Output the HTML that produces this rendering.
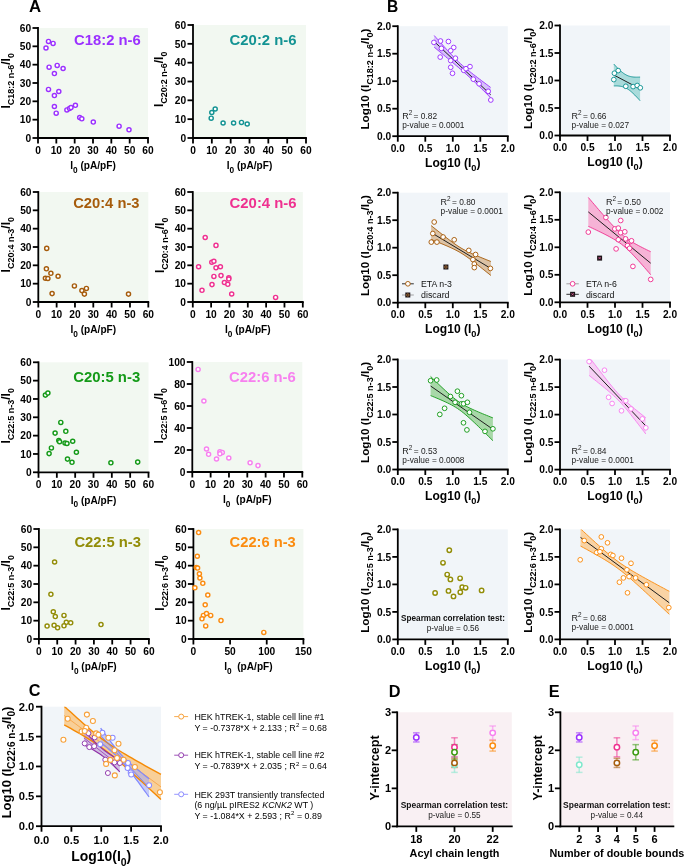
<!DOCTYPE html>
<html><head><meta charset="utf-8"><style>
html,body{margin:0;padding:0;background:#fff;}
svg{display:block;font-family:"Liberation Sans",sans-serif;} text{white-space:pre;} svg{will-change:transform;}
</style></head><body>
<svg width="685" height="867" viewBox="0 0 685 867" font-family="Liberation Sans, sans-serif">
<rect width="685" height="867" fill="#fff"/>
<text x="28.9" y="11.7" font-size="16.8" font-weight="bold" fill="#000">A</text>
<text x="387" y="12.4" font-size="15.6" font-weight="bold" fill="#000">B</text>
<text x="28.8" y="696.4" font-size="16.2" font-weight="bold" fill="#000">C</text>
<text x="388.8" y="696.8" font-size="16.3" font-weight="bold" fill="#000">D</text>
<text x="548.8" y="696.8" font-size="16.3" font-weight="bold" fill="#000">E</text>
<rect x="38.9" y="28" width="109.1" height="109.1" fill="#f2f8f1"/>
<line x1="38" y1="27.1" x2="38" y2="138.9" stroke="#000" stroke-width="1.8"/>
<line x1="37.1" y1="138" x2="148.9" y2="138" stroke="#000" stroke-width="1.8"/>
<line x1="32.5" y1="138" x2="38" y2="138" stroke="#000" stroke-width="1.8"/>
<text x="31.2" y="141.67" font-size="10.2" font-weight="bold" text-anchor="end" fill="#000">0</text>
<line x1="32.5" y1="119.67" x2="38" y2="119.67" stroke="#000" stroke-width="1.8"/>
<text x="31.2" y="123.34" font-size="10.2" font-weight="bold" text-anchor="end" fill="#000">10</text>
<line x1="32.5" y1="101.33" x2="38" y2="101.33" stroke="#000" stroke-width="1.8"/>
<text x="31.2" y="105.01" font-size="10.2" font-weight="bold" text-anchor="end" fill="#000">20</text>
<line x1="32.5" y1="83" x2="38" y2="83" stroke="#000" stroke-width="1.8"/>
<text x="31.2" y="86.67" font-size="10.2" font-weight="bold" text-anchor="end" fill="#000">30</text>
<line x1="32.5" y1="64.67" x2="38" y2="64.67" stroke="#000" stroke-width="1.8"/>
<text x="31.2" y="68.34" font-size="10.2" font-weight="bold" text-anchor="end" fill="#000">40</text>
<line x1="32.5" y1="46.33" x2="38" y2="46.33" stroke="#000" stroke-width="1.8"/>
<text x="31.2" y="50.01" font-size="10.2" font-weight="bold" text-anchor="end" fill="#000">50</text>
<line x1="32.5" y1="28" x2="38" y2="28" stroke="#000" stroke-width="1.8"/>
<text x="31.2" y="31.67" font-size="10.2" font-weight="bold" text-anchor="end" fill="#000">60</text>
<line x1="38" y1="138" x2="38" y2="143.5" stroke="#000" stroke-width="1.8"/>
<text x="38" y="153.6" font-size="10.2" font-weight="bold" text-anchor="middle" fill="#000">0</text>
<line x1="56.33" y1="138" x2="56.33" y2="143.5" stroke="#000" stroke-width="1.8"/>
<text x="56.33" y="153.6" font-size="10.2" font-weight="bold" text-anchor="middle" fill="#000">10</text>
<line x1="74.67" y1="138" x2="74.67" y2="143.5" stroke="#000" stroke-width="1.8"/>
<text x="74.67" y="153.6" font-size="10.2" font-weight="bold" text-anchor="middle" fill="#000">20</text>
<line x1="93" y1="138" x2="93" y2="143.5" stroke="#000" stroke-width="1.8"/>
<text x="93" y="153.6" font-size="10.2" font-weight="bold" text-anchor="middle" fill="#000">30</text>
<line x1="111.33" y1="138" x2="111.33" y2="143.5" stroke="#000" stroke-width="1.8"/>
<text x="111.33" y="153.6" font-size="10.2" font-weight="bold" text-anchor="middle" fill="#000">40</text>
<line x1="129.67" y1="138" x2="129.67" y2="143.5" stroke="#000" stroke-width="1.8"/>
<text x="129.67" y="153.6" font-size="10.2" font-weight="bold" text-anchor="middle" fill="#000">50</text>
<line x1="148" y1="138" x2="148" y2="143.5" stroke="#000" stroke-width="1.8"/>
<text x="148" y="153.6" font-size="10.2" font-weight="bold" text-anchor="middle" fill="#000">60</text>
<text x="74.1" y="45.3" font-size="15" font-weight="bold" fill="#9b30ff" textLength="66.6" lengthAdjust="spacingAndGlyphs">C18:2 n-6</text>
<circle cx="48.5" cy="41.4" r="2.05" fill="#fff" stroke="#9b30ff" stroke-width="1.45"/>
<circle cx="53.1" cy="43.4" r="2.05" fill="#fff" stroke="#9b30ff" stroke-width="1.45"/>
<circle cx="46" cy="48" r="2.05" fill="#fff" stroke="#9b30ff" stroke-width="1.45"/>
<circle cx="49.1" cy="67.2" r="2.05" fill="#fff" stroke="#9b30ff" stroke-width="1.45"/>
<circle cx="57.2" cy="65.4" r="2.05" fill="#fff" stroke="#9b30ff" stroke-width="1.45"/>
<circle cx="63.1" cy="68.5" r="2.05" fill="#fff" stroke="#9b30ff" stroke-width="1.45"/>
<circle cx="54.4" cy="73.6" r="2.05" fill="#fff" stroke="#9b30ff" stroke-width="1.45"/>
<circle cx="48.5" cy="89.4" r="2.05" fill="#fff" stroke="#9b30ff" stroke-width="1.45"/>
<circle cx="58.8" cy="91.5" r="2.05" fill="#fff" stroke="#9b30ff" stroke-width="1.45"/>
<circle cx="54.4" cy="95.6" r="2.05" fill="#fff" stroke="#9b30ff" stroke-width="1.45"/>
<circle cx="54.4" cy="106.5" r="2.05" fill="#fff" stroke="#9b30ff" stroke-width="1.45"/>
<circle cx="56.2" cy="113.2" r="2.05" fill="#fff" stroke="#9b30ff" stroke-width="1.45"/>
<circle cx="66.9" cy="109.9" r="2.05" fill="#fff" stroke="#9b30ff" stroke-width="1.45"/>
<circle cx="69.5" cy="108.6" r="2.05" fill="#fff" stroke="#9b30ff" stroke-width="1.45"/>
<circle cx="71" cy="107.6" r="2.05" fill="#fff" stroke="#9b30ff" stroke-width="1.45"/>
<circle cx="75.4" cy="105.3" r="2.05" fill="#fff" stroke="#9b30ff" stroke-width="1.45"/>
<circle cx="79.7" cy="117.5" r="2.05" fill="#fff" stroke="#9b30ff" stroke-width="1.45"/>
<circle cx="81.8" cy="118.8" r="2.05" fill="#fff" stroke="#9b30ff" stroke-width="1.45"/>
<circle cx="93.3" cy="122.1" r="2.05" fill="#fff" stroke="#9b30ff" stroke-width="1.45"/>
<circle cx="119.1" cy="126.2" r="2.05" fill="#fff" stroke="#9b30ff" stroke-width="1.45"/>
<circle cx="129" cy="129.8" r="2.05" fill="#fff" stroke="#9b30ff" stroke-width="1.45"/>
<text x="70.2" y="169.4" font-size="10.2" font-weight="bold" fill="#000" textLength="2.81" lengthAdjust="spacingAndGlyphs">I</text>
<text x="73.01" y="172.5" font-size="8.4" font-weight="bold" fill="#000" textLength="4.63" lengthAdjust="spacingAndGlyphs">0</text>
<text x="77.64" y="169.4" font-size="10.2" font-weight="bold" fill="#000" textLength="38.16" lengthAdjust="spacingAndGlyphs"> (pA/pF)</text>
<g transform="translate(9.7,80.8) rotate(-90)">
<text x="-27.7" y="0" font-size="12" font-weight="bold" fill="#000" textLength="3.33" lengthAdjust="spacingAndGlyphs">I</text>
<text x="-24.37" y="4" font-size="9" font-weight="bold" fill="#000" textLength="40.43" lengthAdjust="spacingAndGlyphs">C18:2 n-6</text>
<text x="16.05" y="0" font-size="12" font-weight="bold" fill="#000" textLength="6.65" lengthAdjust="spacingAndGlyphs">/I</text>
<text x="22.71" y="4" font-size="9" font-weight="bold" fill="#000" textLength="4.99" lengthAdjust="spacingAndGlyphs">0</text>
</g>
<rect x="193.9" y="25" width="112.1" height="112.1" fill="#f2f8f1"/>
<line x1="193" y1="24.1" x2="193" y2="138.9" stroke="#000" stroke-width="1.8"/>
<line x1="192.1" y1="138" x2="306.9" y2="138" stroke="#000" stroke-width="1.8"/>
<line x1="187.5" y1="138" x2="193" y2="138" stroke="#000" stroke-width="1.8"/>
<text x="186.2" y="141.67" font-size="10.2" font-weight="bold" text-anchor="end" fill="#000">0</text>
<line x1="187.5" y1="119.17" x2="193" y2="119.17" stroke="#000" stroke-width="1.8"/>
<text x="186.2" y="122.84" font-size="10.2" font-weight="bold" text-anchor="end" fill="#000">10</text>
<line x1="187.5" y1="100.33" x2="193" y2="100.33" stroke="#000" stroke-width="1.8"/>
<text x="186.2" y="104.01" font-size="10.2" font-weight="bold" text-anchor="end" fill="#000">20</text>
<line x1="187.5" y1="81.5" x2="193" y2="81.5" stroke="#000" stroke-width="1.8"/>
<text x="186.2" y="85.17" font-size="10.2" font-weight="bold" text-anchor="end" fill="#000">30</text>
<line x1="187.5" y1="62.67" x2="193" y2="62.67" stroke="#000" stroke-width="1.8"/>
<text x="186.2" y="66.34" font-size="10.2" font-weight="bold" text-anchor="end" fill="#000">40</text>
<line x1="187.5" y1="43.83" x2="193" y2="43.83" stroke="#000" stroke-width="1.8"/>
<text x="186.2" y="47.51" font-size="10.2" font-weight="bold" text-anchor="end" fill="#000">50</text>
<line x1="187.5" y1="25" x2="193" y2="25" stroke="#000" stroke-width="1.8"/>
<text x="186.2" y="28.67" font-size="10.2" font-weight="bold" text-anchor="end" fill="#000">60</text>
<line x1="193" y1="138" x2="193" y2="143.5" stroke="#000" stroke-width="1.8"/>
<text x="193" y="153.6" font-size="10.2" font-weight="bold" text-anchor="middle" fill="#000">0</text>
<line x1="211.83" y1="138" x2="211.83" y2="143.5" stroke="#000" stroke-width="1.8"/>
<text x="211.83" y="153.6" font-size="10.2" font-weight="bold" text-anchor="middle" fill="#000">10</text>
<line x1="230.67" y1="138" x2="230.67" y2="143.5" stroke="#000" stroke-width="1.8"/>
<text x="230.67" y="153.6" font-size="10.2" font-weight="bold" text-anchor="middle" fill="#000">20</text>
<line x1="249.5" y1="138" x2="249.5" y2="143.5" stroke="#000" stroke-width="1.8"/>
<text x="249.5" y="153.6" font-size="10.2" font-weight="bold" text-anchor="middle" fill="#000">30</text>
<line x1="268.33" y1="138" x2="268.33" y2="143.5" stroke="#000" stroke-width="1.8"/>
<text x="268.33" y="153.6" font-size="10.2" font-weight="bold" text-anchor="middle" fill="#000">40</text>
<line x1="287.17" y1="138" x2="287.17" y2="143.5" stroke="#000" stroke-width="1.8"/>
<text x="287.17" y="153.6" font-size="10.2" font-weight="bold" text-anchor="middle" fill="#000">50</text>
<line x1="306" y1="138" x2="306" y2="143.5" stroke="#000" stroke-width="1.8"/>
<text x="306" y="153.6" font-size="10.2" font-weight="bold" text-anchor="middle" fill="#000">60</text>
<text x="229.6" y="45.4" font-size="15" font-weight="bold" fill="#139393" textLength="67" lengthAdjust="spacingAndGlyphs">C20:2 n-6</text>
<circle cx="211.2" cy="118.2" r="2.05" fill="#fff" stroke="#139393" stroke-width="1.45"/>
<circle cx="211.8" cy="112.5" r="2.05" fill="#fff" stroke="#139393" stroke-width="1.45"/>
<circle cx="215.2" cy="109" r="2.05" fill="#fff" stroke="#139393" stroke-width="1.45"/>
<circle cx="223.1" cy="123" r="2.05" fill="#fff" stroke="#139393" stroke-width="1.45"/>
<circle cx="233.6" cy="123" r="2.05" fill="#fff" stroke="#139393" stroke-width="1.45"/>
<circle cx="241.5" cy="122.4" r="2.05" fill="#fff" stroke="#139393" stroke-width="1.45"/>
<circle cx="247.2" cy="124" r="2.05" fill="#fff" stroke="#139393" stroke-width="1.45"/>
<text x="226.7" y="169.4" font-size="10.2" font-weight="bold" fill="#000" textLength="2.81" lengthAdjust="spacingAndGlyphs">I</text>
<text x="229.51" y="172.5" font-size="8.4" font-weight="bold" fill="#000" textLength="4.63" lengthAdjust="spacingAndGlyphs">0</text>
<text x="234.14" y="169.4" font-size="10.2" font-weight="bold" fill="#000" textLength="38.16" lengthAdjust="spacingAndGlyphs"> (pA/pF)</text>
<g transform="translate(163.4,79.3) rotate(-90)">
<text x="-27.7" y="0" font-size="12" font-weight="bold" fill="#000" textLength="3.33" lengthAdjust="spacingAndGlyphs">I</text>
<text x="-24.37" y="4" font-size="9" font-weight="bold" fill="#000" textLength="40.43" lengthAdjust="spacingAndGlyphs">C20:2 n-6</text>
<text x="16.05" y="0" font-size="12" font-weight="bold" fill="#000" textLength="6.65" lengthAdjust="spacingAndGlyphs">/I</text>
<text x="22.71" y="4" font-size="9" font-weight="bold" fill="#000" textLength="4.99" lengthAdjust="spacingAndGlyphs">0</text>
</g>
<rect x="39.2" y="192" width="109.1" height="109.1" fill="#f2f8f1"/>
<line x1="38.3" y1="191.1" x2="38.3" y2="302.9" stroke="#000" stroke-width="1.8"/>
<line x1="37.4" y1="302" x2="149.2" y2="302" stroke="#000" stroke-width="1.8"/>
<line x1="32.8" y1="302" x2="38.3" y2="302" stroke="#000" stroke-width="1.8"/>
<text x="31.5" y="305.67" font-size="10.2" font-weight="bold" text-anchor="end" fill="#000">0</text>
<line x1="32.8" y1="283.67" x2="38.3" y2="283.67" stroke="#000" stroke-width="1.8"/>
<text x="31.5" y="287.34" font-size="10.2" font-weight="bold" text-anchor="end" fill="#000">10</text>
<line x1="32.8" y1="265.33" x2="38.3" y2="265.33" stroke="#000" stroke-width="1.8"/>
<text x="31.5" y="269.01" font-size="10.2" font-weight="bold" text-anchor="end" fill="#000">20</text>
<line x1="32.8" y1="247" x2="38.3" y2="247" stroke="#000" stroke-width="1.8"/>
<text x="31.5" y="250.67" font-size="10.2" font-weight="bold" text-anchor="end" fill="#000">30</text>
<line x1="32.8" y1="228.67" x2="38.3" y2="228.67" stroke="#000" stroke-width="1.8"/>
<text x="31.5" y="232.34" font-size="10.2" font-weight="bold" text-anchor="end" fill="#000">40</text>
<line x1="32.8" y1="210.33" x2="38.3" y2="210.33" stroke="#000" stroke-width="1.8"/>
<text x="31.5" y="214.01" font-size="10.2" font-weight="bold" text-anchor="end" fill="#000">50</text>
<line x1="32.8" y1="192" x2="38.3" y2="192" stroke="#000" stroke-width="1.8"/>
<text x="31.5" y="195.67" font-size="10.2" font-weight="bold" text-anchor="end" fill="#000">60</text>
<line x1="38.3" y1="302" x2="38.3" y2="307.5" stroke="#000" stroke-width="1.8"/>
<text x="38.3" y="317.6" font-size="10.2" font-weight="bold" text-anchor="middle" fill="#000">0</text>
<line x1="56.63" y1="302" x2="56.63" y2="307.5" stroke="#000" stroke-width="1.8"/>
<text x="56.63" y="317.6" font-size="10.2" font-weight="bold" text-anchor="middle" fill="#000">10</text>
<line x1="74.97" y1="302" x2="74.97" y2="307.5" stroke="#000" stroke-width="1.8"/>
<text x="74.97" y="317.6" font-size="10.2" font-weight="bold" text-anchor="middle" fill="#000">20</text>
<line x1="93.3" y1="302" x2="93.3" y2="307.5" stroke="#000" stroke-width="1.8"/>
<text x="93.3" y="317.6" font-size="10.2" font-weight="bold" text-anchor="middle" fill="#000">30</text>
<line x1="111.63" y1="302" x2="111.63" y2="307.5" stroke="#000" stroke-width="1.8"/>
<text x="111.63" y="317.6" font-size="10.2" font-weight="bold" text-anchor="middle" fill="#000">40</text>
<line x1="129.97" y1="302" x2="129.97" y2="307.5" stroke="#000" stroke-width="1.8"/>
<text x="129.97" y="317.6" font-size="10.2" font-weight="bold" text-anchor="middle" fill="#000">50</text>
<line x1="148.3" y1="302" x2="148.3" y2="307.5" stroke="#000" stroke-width="1.8"/>
<text x="148.3" y="317.6" font-size="10.2" font-weight="bold" text-anchor="middle" fill="#000">60</text>
<text x="73.2" y="208.3" font-size="15" font-weight="bold" fill="#a65c0c" textLength="66.3" lengthAdjust="spacingAndGlyphs">C20:4 n-3</text>
<circle cx="46.7" cy="248.4" r="2.05" fill="#fff" stroke="#a65c0c" stroke-width="1.45"/>
<circle cx="46.4" cy="268.8" r="2.05" fill="#fff" stroke="#a65c0c" stroke-width="1.45"/>
<circle cx="50.9" cy="273.3" r="2.05" fill="#fff" stroke="#a65c0c" stroke-width="1.45"/>
<circle cx="58.1" cy="276.2" r="2.05" fill="#fff" stroke="#a65c0c" stroke-width="1.45"/>
<circle cx="45.4" cy="278.2" r="2.05" fill="#fff" stroke="#a65c0c" stroke-width="1.45"/>
<circle cx="47.9" cy="278.5" r="2.05" fill="#fff" stroke="#a65c0c" stroke-width="1.45"/>
<circle cx="52.1" cy="293.6" r="2.05" fill="#fff" stroke="#a65c0c" stroke-width="1.45"/>
<circle cx="74.4" cy="285.9" r="2.05" fill="#fff" stroke="#a65c0c" stroke-width="1.45"/>
<circle cx="81.9" cy="290.6" r="2.05" fill="#fff" stroke="#a65c0c" stroke-width="1.45"/>
<circle cx="86.4" cy="288.4" r="2.05" fill="#fff" stroke="#a65c0c" stroke-width="1.45"/>
<circle cx="84.4" cy="294.1" r="2.05" fill="#fff" stroke="#a65c0c" stroke-width="1.45"/>
<circle cx="128.5" cy="294.1" r="2.05" fill="#fff" stroke="#a65c0c" stroke-width="1.45"/>
<text x="70.5" y="333.4" font-size="10.2" font-weight="bold" fill="#000" textLength="2.81" lengthAdjust="spacingAndGlyphs">I</text>
<text x="73.31" y="336.5" font-size="8.4" font-weight="bold" fill="#000" textLength="4.63" lengthAdjust="spacingAndGlyphs">0</text>
<text x="77.94" y="333.4" font-size="10.2" font-weight="bold" fill="#000" textLength="38.16" lengthAdjust="spacingAndGlyphs"> (pA/pF)</text>
<g transform="translate(9.9,244.7) rotate(-90)">
<text x="-27.7" y="0" font-size="12" font-weight="bold" fill="#000" textLength="3.33" lengthAdjust="spacingAndGlyphs">I</text>
<text x="-24.37" y="4" font-size="9" font-weight="bold" fill="#000" textLength="40.43" lengthAdjust="spacingAndGlyphs">C20:4 n-3</text>
<text x="16.05" y="0" font-size="12" font-weight="bold" fill="#000" textLength="6.65" lengthAdjust="spacingAndGlyphs">/I</text>
<text x="22.71" y="4" font-size="9" font-weight="bold" fill="#000" textLength="4.99" lengthAdjust="spacingAndGlyphs">0</text>
</g>
<rect x="193.7" y="192" width="109.1" height="109.1" fill="#f2f8f1"/>
<line x1="192.8" y1="191.1" x2="192.8" y2="302.9" stroke="#000" stroke-width="1.8"/>
<line x1="191.9" y1="302" x2="303.7" y2="302" stroke="#000" stroke-width="1.8"/>
<line x1="187.3" y1="302" x2="192.8" y2="302" stroke="#000" stroke-width="1.8"/>
<text x="186" y="305.67" font-size="10.2" font-weight="bold" text-anchor="end" fill="#000">0</text>
<line x1="187.3" y1="283.67" x2="192.8" y2="283.67" stroke="#000" stroke-width="1.8"/>
<text x="186" y="287.34" font-size="10.2" font-weight="bold" text-anchor="end" fill="#000">10</text>
<line x1="187.3" y1="265.33" x2="192.8" y2="265.33" stroke="#000" stroke-width="1.8"/>
<text x="186" y="269.01" font-size="10.2" font-weight="bold" text-anchor="end" fill="#000">20</text>
<line x1="187.3" y1="247" x2="192.8" y2="247" stroke="#000" stroke-width="1.8"/>
<text x="186" y="250.67" font-size="10.2" font-weight="bold" text-anchor="end" fill="#000">30</text>
<line x1="187.3" y1="228.67" x2="192.8" y2="228.67" stroke="#000" stroke-width="1.8"/>
<text x="186" y="232.34" font-size="10.2" font-weight="bold" text-anchor="end" fill="#000">40</text>
<line x1="187.3" y1="210.33" x2="192.8" y2="210.33" stroke="#000" stroke-width="1.8"/>
<text x="186" y="214.01" font-size="10.2" font-weight="bold" text-anchor="end" fill="#000">50</text>
<line x1="187.3" y1="192" x2="192.8" y2="192" stroke="#000" stroke-width="1.8"/>
<text x="186" y="195.67" font-size="10.2" font-weight="bold" text-anchor="end" fill="#000">60</text>
<line x1="192.8" y1="302" x2="192.8" y2="307.5" stroke="#000" stroke-width="1.8"/>
<text x="192.8" y="317.6" font-size="10.2" font-weight="bold" text-anchor="middle" fill="#000">0</text>
<line x1="211.13" y1="302" x2="211.13" y2="307.5" stroke="#000" stroke-width="1.8"/>
<text x="211.13" y="317.6" font-size="10.2" font-weight="bold" text-anchor="middle" fill="#000">10</text>
<line x1="229.47" y1="302" x2="229.47" y2="307.5" stroke="#000" stroke-width="1.8"/>
<text x="229.47" y="317.6" font-size="10.2" font-weight="bold" text-anchor="middle" fill="#000">20</text>
<line x1="247.8" y1="302" x2="247.8" y2="307.5" stroke="#000" stroke-width="1.8"/>
<text x="247.8" y="317.6" font-size="10.2" font-weight="bold" text-anchor="middle" fill="#000">30</text>
<line x1="266.13" y1="302" x2="266.13" y2="307.5" stroke="#000" stroke-width="1.8"/>
<text x="266.13" y="317.6" font-size="10.2" font-weight="bold" text-anchor="middle" fill="#000">40</text>
<line x1="284.47" y1="302" x2="284.47" y2="307.5" stroke="#000" stroke-width="1.8"/>
<text x="284.47" y="317.6" font-size="10.2" font-weight="bold" text-anchor="middle" fill="#000">50</text>
<line x1="302.8" y1="302" x2="302.8" y2="307.5" stroke="#000" stroke-width="1.8"/>
<text x="302.8" y="317.6" font-size="10.2" font-weight="bold" text-anchor="middle" fill="#000">60</text>
<text x="229.6" y="208.3" font-size="15" font-weight="bold" fill="#ef3190" textLength="67" lengthAdjust="spacingAndGlyphs">C20:4 n-6</text>
<circle cx="205.2" cy="237.5" r="2.05" fill="#fff" stroke="#ef3190" stroke-width="1.45"/>
<circle cx="216" cy="245.4" r="2.05" fill="#fff" stroke="#ef3190" stroke-width="1.45"/>
<circle cx="211.8" cy="262.2" r="2.05" fill="#fff" stroke="#ef3190" stroke-width="1.45"/>
<circle cx="213.9" cy="261.2" r="2.05" fill="#fff" stroke="#ef3190" stroke-width="1.45"/>
<circle cx="198.6" cy="266.7" r="2.05" fill="#fff" stroke="#ef3190" stroke-width="1.45"/>
<circle cx="216" cy="267.7" r="2.05" fill="#fff" stroke="#ef3190" stroke-width="1.45"/>
<circle cx="220.4" cy="266.7" r="2.05" fill="#fff" stroke="#ef3190" stroke-width="1.45"/>
<circle cx="213.9" cy="276.4" r="2.05" fill="#fff" stroke="#ef3190" stroke-width="1.45"/>
<circle cx="221" cy="275.6" r="2.05" fill="#fff" stroke="#ef3190" stroke-width="1.45"/>
<circle cx="212" cy="284.6" r="2.05" fill="#fff" stroke="#ef3190" stroke-width="1.45"/>
<circle cx="224.4" cy="282.5" r="2.05" fill="#fff" stroke="#ef3190" stroke-width="1.45"/>
<circle cx="227.8" cy="284.3" r="2.05" fill="#fff" stroke="#ef3190" stroke-width="1.45"/>
<circle cx="228.8" cy="277.7" r="2.05" fill="#fff" stroke="#ef3190" stroke-width="1.45"/>
<circle cx="228.8" cy="279" r="2.05" fill="#fff" stroke="#ef3190" stroke-width="1.45"/>
<circle cx="202" cy="290.3" r="2.05" fill="#fff" stroke="#ef3190" stroke-width="1.45"/>
<circle cx="231.7" cy="294" r="2.05" fill="#fff" stroke="#ef3190" stroke-width="1.45"/>
<circle cx="275.6" cy="297.4" r="2.05" fill="#fff" stroke="#ef3190" stroke-width="1.45"/>
<text x="225" y="333.4" font-size="10.2" font-weight="bold" fill="#000" textLength="2.81" lengthAdjust="spacingAndGlyphs">I</text>
<text x="227.81" y="336.5" font-size="8.4" font-weight="bold" fill="#000" textLength="4.63" lengthAdjust="spacingAndGlyphs">0</text>
<text x="232.44" y="333.4" font-size="10.2" font-weight="bold" fill="#000" textLength="38.16" lengthAdjust="spacingAndGlyphs"> (pA/pF)</text>
<g transform="translate(164,245.3) rotate(-90)">
<text x="-27.7" y="0" font-size="12" font-weight="bold" fill="#000" textLength="3.33" lengthAdjust="spacingAndGlyphs">I</text>
<text x="-24.37" y="4" font-size="9" font-weight="bold" fill="#000" textLength="40.43" lengthAdjust="spacingAndGlyphs">C20:4 n-6</text>
<text x="16.05" y="0" font-size="12" font-weight="bold" fill="#000" textLength="6.65" lengthAdjust="spacingAndGlyphs">/I</text>
<text x="22.71" y="4" font-size="9" font-weight="bold" fill="#000" textLength="4.99" lengthAdjust="spacingAndGlyphs">0</text>
</g>
<rect x="39.4" y="362.3" width="109.1" height="109.1" fill="#f2f8f1"/>
<line x1="38.5" y1="361.4" x2="38.5" y2="473.2" stroke="#000" stroke-width="1.8"/>
<line x1="37.6" y1="472.3" x2="149.4" y2="472.3" stroke="#000" stroke-width="1.8"/>
<line x1="33" y1="472.3" x2="38.5" y2="472.3" stroke="#000" stroke-width="1.8"/>
<text x="31.7" y="475.97" font-size="10.2" font-weight="bold" text-anchor="end" fill="#000">0</text>
<line x1="33" y1="453.97" x2="38.5" y2="453.97" stroke="#000" stroke-width="1.8"/>
<text x="31.7" y="457.64" font-size="10.2" font-weight="bold" text-anchor="end" fill="#000">10</text>
<line x1="33" y1="435.63" x2="38.5" y2="435.63" stroke="#000" stroke-width="1.8"/>
<text x="31.7" y="439.31" font-size="10.2" font-weight="bold" text-anchor="end" fill="#000">20</text>
<line x1="33" y1="417.3" x2="38.5" y2="417.3" stroke="#000" stroke-width="1.8"/>
<text x="31.7" y="420.97" font-size="10.2" font-weight="bold" text-anchor="end" fill="#000">30</text>
<line x1="33" y1="398.97" x2="38.5" y2="398.97" stroke="#000" stroke-width="1.8"/>
<text x="31.7" y="402.64" font-size="10.2" font-weight="bold" text-anchor="end" fill="#000">40</text>
<line x1="33" y1="380.63" x2="38.5" y2="380.63" stroke="#000" stroke-width="1.8"/>
<text x="31.7" y="384.31" font-size="10.2" font-weight="bold" text-anchor="end" fill="#000">50</text>
<line x1="33" y1="362.3" x2="38.5" y2="362.3" stroke="#000" stroke-width="1.8"/>
<text x="31.7" y="365.97" font-size="10.2" font-weight="bold" text-anchor="end" fill="#000">60</text>
<line x1="38.5" y1="472.3" x2="38.5" y2="477.8" stroke="#000" stroke-width="1.8"/>
<text x="38.5" y="487.9" font-size="10.2" font-weight="bold" text-anchor="middle" fill="#000">0</text>
<line x1="56.83" y1="472.3" x2="56.83" y2="477.8" stroke="#000" stroke-width="1.8"/>
<text x="56.83" y="487.9" font-size="10.2" font-weight="bold" text-anchor="middle" fill="#000">10</text>
<line x1="75.17" y1="472.3" x2="75.17" y2="477.8" stroke="#000" stroke-width="1.8"/>
<text x="75.17" y="487.9" font-size="10.2" font-weight="bold" text-anchor="middle" fill="#000">20</text>
<line x1="93.5" y1="472.3" x2="93.5" y2="477.8" stroke="#000" stroke-width="1.8"/>
<text x="93.5" y="487.9" font-size="10.2" font-weight="bold" text-anchor="middle" fill="#000">30</text>
<line x1="111.83" y1="472.3" x2="111.83" y2="477.8" stroke="#000" stroke-width="1.8"/>
<text x="111.83" y="487.9" font-size="10.2" font-weight="bold" text-anchor="middle" fill="#000">40</text>
<line x1="130.17" y1="472.3" x2="130.17" y2="477.8" stroke="#000" stroke-width="1.8"/>
<text x="130.17" y="487.9" font-size="10.2" font-weight="bold" text-anchor="middle" fill="#000">50</text>
<line x1="148.5" y1="472.3" x2="148.5" y2="477.8" stroke="#000" stroke-width="1.8"/>
<text x="148.5" y="487.9" font-size="10.2" font-weight="bold" text-anchor="middle" fill="#000">60</text>
<text x="73.2" y="382.2" font-size="15" font-weight="bold" fill="#149a18" textLength="67" lengthAdjust="spacingAndGlyphs">C20:5 n-3</text>
<circle cx="45.4" cy="395.1" r="2.05" fill="#fff" stroke="#149a18" stroke-width="1.45"/>
<circle cx="47.9" cy="393.1" r="2.05" fill="#fff" stroke="#149a18" stroke-width="1.45"/>
<circle cx="60.8" cy="422.4" r="2.05" fill="#fff" stroke="#149a18" stroke-width="1.45"/>
<circle cx="55.1" cy="433.1" r="2.05" fill="#fff" stroke="#149a18" stroke-width="1.45"/>
<circle cx="65.8" cy="431.3" r="2.05" fill="#fff" stroke="#149a18" stroke-width="1.45"/>
<circle cx="58.8" cy="440.5" r="2.05" fill="#fff" stroke="#149a18" stroke-width="1.45"/>
<circle cx="59.6" cy="441.7" r="2.05" fill="#fff" stroke="#149a18" stroke-width="1.45"/>
<circle cx="65" cy="443" r="2.05" fill="#fff" stroke="#149a18" stroke-width="1.45"/>
<circle cx="67" cy="443.5" r="2.05" fill="#fff" stroke="#149a18" stroke-width="1.45"/>
<circle cx="72.7" cy="441.2" r="2.05" fill="#fff" stroke="#149a18" stroke-width="1.45"/>
<circle cx="51.4" cy="447.9" r="2.05" fill="#fff" stroke="#149a18" stroke-width="1.45"/>
<circle cx="49.1" cy="453.6" r="2.05" fill="#fff" stroke="#149a18" stroke-width="1.45"/>
<circle cx="76.4" cy="452.2" r="2.05" fill="#fff" stroke="#149a18" stroke-width="1.45"/>
<circle cx="67.5" cy="459.1" r="2.05" fill="#fff" stroke="#149a18" stroke-width="1.45"/>
<circle cx="72" cy="462.3" r="2.05" fill="#fff" stroke="#149a18" stroke-width="1.45"/>
<circle cx="110.9" cy="462.8" r="2.05" fill="#fff" stroke="#149a18" stroke-width="1.45"/>
<circle cx="137.7" cy="462.1" r="2.05" fill="#fff" stroke="#149a18" stroke-width="1.45"/>
<text x="70.7" y="503.7" font-size="10.2" font-weight="bold" fill="#000" textLength="2.81" lengthAdjust="spacingAndGlyphs">I</text>
<text x="73.51" y="506.8" font-size="8.4" font-weight="bold" fill="#000" textLength="4.63" lengthAdjust="spacingAndGlyphs">0</text>
<text x="78.14" y="503.7" font-size="10.2" font-weight="bold" fill="#000" textLength="38.16" lengthAdjust="spacingAndGlyphs"> (pA/pF)</text>
<g transform="translate(10,415.8) rotate(-90)">
<text x="-27.7" y="0" font-size="12" font-weight="bold" fill="#000" textLength="3.33" lengthAdjust="spacingAndGlyphs">I</text>
<text x="-24.37" y="4" font-size="9" font-weight="bold" fill="#000" textLength="40.43" lengthAdjust="spacingAndGlyphs">C22:5 n-3</text>
<text x="16.05" y="0" font-size="12" font-weight="bold" fill="#000" textLength="6.65" lengthAdjust="spacingAndGlyphs">/I</text>
<text x="22.71" y="4" font-size="9" font-weight="bold" fill="#000" textLength="4.99" lengthAdjust="spacingAndGlyphs">0</text>
</g>
<rect x="193.2" y="362" width="109.1" height="109.1" fill="#f2f8f1"/>
<line x1="192.3" y1="361.1" x2="192.3" y2="472.9" stroke="#000" stroke-width="1.8"/>
<line x1="191.4" y1="472" x2="303.2" y2="472" stroke="#000" stroke-width="1.8"/>
<line x1="186.8" y1="472" x2="192.3" y2="472" stroke="#000" stroke-width="1.8"/>
<text x="185.5" y="475.67" font-size="10.2" font-weight="bold" text-anchor="end" fill="#000">0</text>
<line x1="186.8" y1="450" x2="192.3" y2="450" stroke="#000" stroke-width="1.8"/>
<text x="185.5" y="453.67" font-size="10.2" font-weight="bold" text-anchor="end" fill="#000">20</text>
<line x1="186.8" y1="428" x2="192.3" y2="428" stroke="#000" stroke-width="1.8"/>
<text x="185.5" y="431.67" font-size="10.2" font-weight="bold" text-anchor="end" fill="#000">40</text>
<line x1="186.8" y1="406" x2="192.3" y2="406" stroke="#000" stroke-width="1.8"/>
<text x="185.5" y="409.67" font-size="10.2" font-weight="bold" text-anchor="end" fill="#000">60</text>
<line x1="186.8" y1="384" x2="192.3" y2="384" stroke="#000" stroke-width="1.8"/>
<text x="185.5" y="387.67" font-size="10.2" font-weight="bold" text-anchor="end" fill="#000">80</text>
<line x1="186.8" y1="362" x2="192.3" y2="362" stroke="#000" stroke-width="1.8"/>
<text x="185.5" y="365.67" font-size="10.2" font-weight="bold" text-anchor="end" fill="#000">100</text>
<line x1="192.3" y1="472" x2="192.3" y2="477.5" stroke="#000" stroke-width="1.8"/>
<text x="192.3" y="487.6" font-size="10.2" font-weight="bold" text-anchor="middle" fill="#000">0</text>
<line x1="210.63" y1="472" x2="210.63" y2="477.5" stroke="#000" stroke-width="1.8"/>
<text x="210.63" y="487.6" font-size="10.2" font-weight="bold" text-anchor="middle" fill="#000">10</text>
<line x1="228.97" y1="472" x2="228.97" y2="477.5" stroke="#000" stroke-width="1.8"/>
<text x="228.97" y="487.6" font-size="10.2" font-weight="bold" text-anchor="middle" fill="#000">20</text>
<line x1="247.3" y1="472" x2="247.3" y2="477.5" stroke="#000" stroke-width="1.8"/>
<text x="247.3" y="487.6" font-size="10.2" font-weight="bold" text-anchor="middle" fill="#000">30</text>
<line x1="265.63" y1="472" x2="265.63" y2="477.5" stroke="#000" stroke-width="1.8"/>
<text x="265.63" y="487.6" font-size="10.2" font-weight="bold" text-anchor="middle" fill="#000">40</text>
<line x1="283.97" y1="472" x2="283.97" y2="477.5" stroke="#000" stroke-width="1.8"/>
<text x="283.97" y="487.6" font-size="10.2" font-weight="bold" text-anchor="middle" fill="#000">50</text>
<line x1="302.3" y1="472" x2="302.3" y2="477.5" stroke="#000" stroke-width="1.8"/>
<text x="302.3" y="487.6" font-size="10.2" font-weight="bold" text-anchor="middle" fill="#000">60</text>
<text x="229.1" y="381.8" font-size="15" font-weight="bold" fill="#f780ef" textLength="66.7" lengthAdjust="spacingAndGlyphs">C22:6 n-6</text>
<circle cx="198.1" cy="369.4" r="2.05" fill="#fff" stroke="#f780ef" stroke-width="1.45"/>
<circle cx="203.9" cy="401" r="2.05" fill="#fff" stroke="#f780ef" stroke-width="1.45"/>
<circle cx="206.5" cy="449" r="2.05" fill="#fff" stroke="#f780ef" stroke-width="1.45"/>
<circle cx="208.6" cy="454.3" r="2.05" fill="#fff" stroke="#f780ef" stroke-width="1.45"/>
<circle cx="216.5" cy="459" r="2.05" fill="#fff" stroke="#f780ef" stroke-width="1.45"/>
<circle cx="219.9" cy="451.7" r="2.05" fill="#fff" stroke="#f780ef" stroke-width="1.45"/>
<circle cx="222.3" cy="452.5" r="2.05" fill="#fff" stroke="#f780ef" stroke-width="1.45"/>
<circle cx="219.9" cy="453.8" r="2.05" fill="#fff" stroke="#f780ef" stroke-width="1.45"/>
<circle cx="228.8" cy="458" r="2.05" fill="#fff" stroke="#f780ef" stroke-width="1.45"/>
<circle cx="250.1" cy="462.7" r="2.05" fill="#fff" stroke="#f780ef" stroke-width="1.45"/>
<circle cx="258" cy="465.6" r="2.05" fill="#fff" stroke="#f780ef" stroke-width="1.45"/>
<text x="223.05" y="503.4" font-size="10.2" font-weight="bold" fill="#000" textLength="2.81" lengthAdjust="spacingAndGlyphs">I</text>
<text x="225.86" y="506.5" font-size="8.4" font-weight="bold" fill="#000" textLength="4.64" lengthAdjust="spacingAndGlyphs">0</text>
<text x="230.5" y="503.4" font-size="10.2" font-weight="bold" fill="#000" textLength="41.05" lengthAdjust="spacingAndGlyphs">  (pA/pF)</text>
<g transform="translate(163.3,415.7) rotate(-90)">
<text x="-27.7" y="0" font-size="12" font-weight="bold" fill="#000" textLength="3.33" lengthAdjust="spacingAndGlyphs">I</text>
<text x="-24.37" y="4" font-size="9" font-weight="bold" fill="#000" textLength="40.43" lengthAdjust="spacingAndGlyphs">C22:5 n-6</text>
<text x="16.05" y="0" font-size="12" font-weight="bold" fill="#000" textLength="6.65" lengthAdjust="spacingAndGlyphs">/I</text>
<text x="22.71" y="4" font-size="9" font-weight="bold" fill="#000" textLength="4.99" lengthAdjust="spacingAndGlyphs">0</text>
</g>
<rect x="39.8" y="529" width="109.1" height="109.1" fill="#f2f8f1"/>
<line x1="38.9" y1="528.1" x2="38.9" y2="639.9" stroke="#000" stroke-width="1.8"/>
<line x1="38" y1="639" x2="149.8" y2="639" stroke="#000" stroke-width="1.8"/>
<line x1="33.4" y1="639" x2="38.9" y2="639" stroke="#000" stroke-width="1.8"/>
<text x="32.1" y="642.67" font-size="10.2" font-weight="bold" text-anchor="end" fill="#000">0</text>
<line x1="33.4" y1="620.67" x2="38.9" y2="620.67" stroke="#000" stroke-width="1.8"/>
<text x="32.1" y="624.34" font-size="10.2" font-weight="bold" text-anchor="end" fill="#000">10</text>
<line x1="33.4" y1="602.33" x2="38.9" y2="602.33" stroke="#000" stroke-width="1.8"/>
<text x="32.1" y="606.01" font-size="10.2" font-weight="bold" text-anchor="end" fill="#000">20</text>
<line x1="33.4" y1="584" x2="38.9" y2="584" stroke="#000" stroke-width="1.8"/>
<text x="32.1" y="587.67" font-size="10.2" font-weight="bold" text-anchor="end" fill="#000">30</text>
<line x1="33.4" y1="565.67" x2="38.9" y2="565.67" stroke="#000" stroke-width="1.8"/>
<text x="32.1" y="569.34" font-size="10.2" font-weight="bold" text-anchor="end" fill="#000">40</text>
<line x1="33.4" y1="547.33" x2="38.9" y2="547.33" stroke="#000" stroke-width="1.8"/>
<text x="32.1" y="551.01" font-size="10.2" font-weight="bold" text-anchor="end" fill="#000">50</text>
<line x1="33.4" y1="529" x2="38.9" y2="529" stroke="#000" stroke-width="1.8"/>
<text x="32.1" y="532.67" font-size="10.2" font-weight="bold" text-anchor="end" fill="#000">60</text>
<line x1="38.9" y1="639" x2="38.9" y2="644.5" stroke="#000" stroke-width="1.8"/>
<text x="38.9" y="654.6" font-size="10.2" font-weight="bold" text-anchor="middle" fill="#000">0</text>
<line x1="57.23" y1="639" x2="57.23" y2="644.5" stroke="#000" stroke-width="1.8"/>
<text x="57.23" y="654.6" font-size="10.2" font-weight="bold" text-anchor="middle" fill="#000">10</text>
<line x1="75.57" y1="639" x2="75.57" y2="644.5" stroke="#000" stroke-width="1.8"/>
<text x="75.57" y="654.6" font-size="10.2" font-weight="bold" text-anchor="middle" fill="#000">20</text>
<line x1="93.9" y1="639" x2="93.9" y2="644.5" stroke="#000" stroke-width="1.8"/>
<text x="93.9" y="654.6" font-size="10.2" font-weight="bold" text-anchor="middle" fill="#000">30</text>
<line x1="112.23" y1="639" x2="112.23" y2="644.5" stroke="#000" stroke-width="1.8"/>
<text x="112.23" y="654.6" font-size="10.2" font-weight="bold" text-anchor="middle" fill="#000">40</text>
<line x1="130.57" y1="639" x2="130.57" y2="644.5" stroke="#000" stroke-width="1.8"/>
<text x="130.57" y="654.6" font-size="10.2" font-weight="bold" text-anchor="middle" fill="#000">50</text>
<line x1="148.9" y1="639" x2="148.9" y2="644.5" stroke="#000" stroke-width="1.8"/>
<text x="148.9" y="654.6" font-size="10.2" font-weight="bold" text-anchor="middle" fill="#000">60</text>
<text x="74.4" y="547.2" font-size="15" font-weight="bold" fill="#928d08" textLength="66.6" lengthAdjust="spacingAndGlyphs">C22:5 n-3</text>
<circle cx="54.6" cy="562" r="2.05" fill="#fff" stroke="#928d08" stroke-width="1.45"/>
<circle cx="50.9" cy="594.3" r="2.05" fill="#fff" stroke="#928d08" stroke-width="1.45"/>
<circle cx="53.3" cy="611.7" r="2.05" fill="#fff" stroke="#928d08" stroke-width="1.45"/>
<circle cx="55.3" cy="616.6" r="2.05" fill="#fff" stroke="#928d08" stroke-width="1.45"/>
<circle cx="64" cy="615.4" r="2.05" fill="#fff" stroke="#928d08" stroke-width="1.45"/>
<circle cx="66.3" cy="622.3" r="2.05" fill="#fff" stroke="#928d08" stroke-width="1.45"/>
<circle cx="70.7" cy="622.8" r="2.05" fill="#fff" stroke="#928d08" stroke-width="1.45"/>
<circle cx="54.1" cy="625.3" r="2.05" fill="#fff" stroke="#928d08" stroke-width="1.45"/>
<circle cx="64" cy="625.8" r="2.05" fill="#fff" stroke="#928d08" stroke-width="1.45"/>
<circle cx="47.1" cy="626.1" r="2.05" fill="#fff" stroke="#928d08" stroke-width="1.45"/>
<circle cx="57.6" cy="627.8" r="2.05" fill="#fff" stroke="#928d08" stroke-width="1.45"/>
<circle cx="101" cy="624.6" r="2.05" fill="#fff" stroke="#928d08" stroke-width="1.45"/>
<text x="71.1" y="670.4" font-size="10.2" font-weight="bold" fill="#000" textLength="2.81" lengthAdjust="spacingAndGlyphs">I</text>
<text x="73.91" y="673.5" font-size="8.4" font-weight="bold" fill="#000" textLength="4.63" lengthAdjust="spacingAndGlyphs">0</text>
<text x="78.54" y="670.4" font-size="10.2" font-weight="bold" fill="#000" textLength="38.16" lengthAdjust="spacingAndGlyphs"> (pA/pF)</text>
<g transform="translate(10.2,582.8) rotate(-90)">
<text x="-27.7" y="0" font-size="12" font-weight="bold" fill="#000" textLength="3.33" lengthAdjust="spacingAndGlyphs">I</text>
<text x="-24.37" y="4" font-size="9" font-weight="bold" fill="#000" textLength="40.43" lengthAdjust="spacingAndGlyphs">C22:5 n-3</text>
<text x="16.05" y="0" font-size="12" font-weight="bold" fill="#000" textLength="6.65" lengthAdjust="spacingAndGlyphs">/I</text>
<text x="22.71" y="4" font-size="9" font-weight="bold" fill="#000" textLength="4.99" lengthAdjust="spacingAndGlyphs">0</text>
</g>
<rect x="194.3" y="529" width="109.1" height="109.1" fill="#f2f8f1"/>
<line x1="193.4" y1="528.1" x2="193.4" y2="639.9" stroke="#000" stroke-width="1.8"/>
<line x1="192.5" y1="639" x2="304.3" y2="639" stroke="#000" stroke-width="1.8"/>
<line x1="187.9" y1="639" x2="193.4" y2="639" stroke="#000" stroke-width="1.8"/>
<text x="186.6" y="642.67" font-size="10.2" font-weight="bold" text-anchor="end" fill="#000">0</text>
<line x1="187.9" y1="620.67" x2="193.4" y2="620.67" stroke="#000" stroke-width="1.8"/>
<text x="186.6" y="624.34" font-size="10.2" font-weight="bold" text-anchor="end" fill="#000">10</text>
<line x1="187.9" y1="602.33" x2="193.4" y2="602.33" stroke="#000" stroke-width="1.8"/>
<text x="186.6" y="606.01" font-size="10.2" font-weight="bold" text-anchor="end" fill="#000">20</text>
<line x1="187.9" y1="584" x2="193.4" y2="584" stroke="#000" stroke-width="1.8"/>
<text x="186.6" y="587.67" font-size="10.2" font-weight="bold" text-anchor="end" fill="#000">30</text>
<line x1="187.9" y1="565.67" x2="193.4" y2="565.67" stroke="#000" stroke-width="1.8"/>
<text x="186.6" y="569.34" font-size="10.2" font-weight="bold" text-anchor="end" fill="#000">40</text>
<line x1="187.9" y1="547.33" x2="193.4" y2="547.33" stroke="#000" stroke-width="1.8"/>
<text x="186.6" y="551.01" font-size="10.2" font-weight="bold" text-anchor="end" fill="#000">50</text>
<line x1="187.9" y1="529" x2="193.4" y2="529" stroke="#000" stroke-width="1.8"/>
<text x="186.6" y="532.67" font-size="10.2" font-weight="bold" text-anchor="end" fill="#000">60</text>
<line x1="193.4" y1="639" x2="193.4" y2="644.5" stroke="#000" stroke-width="1.8"/>
<text x="193.4" y="654.6" font-size="10.2" font-weight="bold" text-anchor="middle" fill="#000">0</text>
<line x1="230.07" y1="639" x2="230.07" y2="644.5" stroke="#000" stroke-width="1.8"/>
<text x="230.07" y="654.6" font-size="10.2" font-weight="bold" text-anchor="middle" fill="#000">50</text>
<line x1="266.73" y1="639" x2="266.73" y2="644.5" stroke="#000" stroke-width="1.8"/>
<text x="266.73" y="654.6" font-size="10.2" font-weight="bold" text-anchor="middle" fill="#000">100</text>
<line x1="303.4" y1="639" x2="303.4" y2="644.5" stroke="#000" stroke-width="1.8"/>
<text x="303.4" y="654.6" font-size="10.2" font-weight="bold" text-anchor="middle" fill="#000">150</text>
<text x="229.6" y="546.8" font-size="15" font-weight="bold" fill="#fb8c10" textLength="66.2" lengthAdjust="spacingAndGlyphs">C22:6 n-3</text>
<circle cx="198.6" cy="532.6" r="2.05" fill="#fff" stroke="#fb8c10" stroke-width="1.45"/>
<circle cx="197.3" cy="556.2" r="2.05" fill="#fff" stroke="#fb8c10" stroke-width="1.45"/>
<circle cx="196.3" cy="567.5" r="2.05" fill="#fff" stroke="#fb8c10" stroke-width="1.45"/>
<circle cx="197.6" cy="568.1" r="2.05" fill="#fff" stroke="#fb8c10" stroke-width="1.45"/>
<circle cx="199.4" cy="573.8" r="2.05" fill="#fff" stroke="#fb8c10" stroke-width="1.45"/>
<circle cx="199.9" cy="578" r="2.05" fill="#fff" stroke="#fb8c10" stroke-width="1.45"/>
<circle cx="202.8" cy="583.3" r="2.05" fill="#fff" stroke="#fb8c10" stroke-width="1.45"/>
<circle cx="194.9" cy="587.8" r="2.05" fill="#fff" stroke="#fb8c10" stroke-width="1.45"/>
<circle cx="207.8" cy="595.1" r="2.05" fill="#fff" stroke="#fb8c10" stroke-width="1.45"/>
<circle cx="205.2" cy="604.8" r="2.05" fill="#fff" stroke="#fb8c10" stroke-width="1.45"/>
<circle cx="203.4" cy="615.4" r="2.05" fill="#fff" stroke="#fb8c10" stroke-width="1.45"/>
<circle cx="206.5" cy="613.5" r="2.05" fill="#fff" stroke="#fb8c10" stroke-width="1.45"/>
<circle cx="210.7" cy="615.4" r="2.05" fill="#fff" stroke="#fb8c10" stroke-width="1.45"/>
<circle cx="202" cy="618.8" r="2.05" fill="#fff" stroke="#fb8c10" stroke-width="1.45"/>
<circle cx="205.7" cy="625.9" r="2.05" fill="#fff" stroke="#fb8c10" stroke-width="1.45"/>
<circle cx="221" cy="620.6" r="2.05" fill="#fff" stroke="#fb8c10" stroke-width="1.45"/>
<circle cx="263.8" cy="632.4" r="2.05" fill="#fff" stroke="#fb8c10" stroke-width="1.45"/>
<text x="224.15" y="670.4" font-size="10.2" font-weight="bold" fill="#000" textLength="2.81" lengthAdjust="spacingAndGlyphs">I</text>
<text x="226.96" y="673.5" font-size="8.4" font-weight="bold" fill="#000" textLength="4.64" lengthAdjust="spacingAndGlyphs">0</text>
<text x="231.6" y="670.4" font-size="10.2" font-weight="bold" fill="#000" textLength="41.05" lengthAdjust="spacingAndGlyphs">  (pA/pF)</text>
<g transform="translate(163.7,583) rotate(-90)">
<text x="-27.7" y="0" font-size="12" font-weight="bold" fill="#000" textLength="3.33" lengthAdjust="spacingAndGlyphs">I</text>
<text x="-24.37" y="4" font-size="9" font-weight="bold" fill="#000" textLength="40.43" lengthAdjust="spacingAndGlyphs">C22:6 n-3</text>
<text x="16.05" y="0" font-size="12" font-weight="bold" fill="#000" textLength="6.65" lengthAdjust="spacingAndGlyphs">/I</text>
<text x="22.71" y="4" font-size="9" font-weight="bold" fill="#000" textLength="4.99" lengthAdjust="spacingAndGlyphs">0</text>
</g>
<rect x="398.7" y="26.2" width="109.1" height="109.1" fill="#f1f5f9"/>
<line x1="397.8" y1="25.3" x2="397.8" y2="137.1" stroke="#000" stroke-width="1.8"/>
<line x1="396.9" y1="136.2" x2="508.7" y2="136.2" stroke="#000" stroke-width="1.8"/>
<line x1="392.3" y1="136.2" x2="397.8" y2="136.2" stroke="#000" stroke-width="1.8"/>
<text x="391.2" y="139.87" font-size="10.2" font-weight="bold" text-anchor="end" fill="#000">0.0</text>
<line x1="392.3" y1="108.7" x2="397.8" y2="108.7" stroke="#000" stroke-width="1.8"/>
<text x="391.2" y="112.37" font-size="10.2" font-weight="bold" text-anchor="end" fill="#000">0.5</text>
<line x1="392.3" y1="81.2" x2="397.8" y2="81.2" stroke="#000" stroke-width="1.8"/>
<text x="391.2" y="84.87" font-size="10.2" font-weight="bold" text-anchor="end" fill="#000">1.0</text>
<line x1="392.3" y1="53.7" x2="397.8" y2="53.7" stroke="#000" stroke-width="1.8"/>
<text x="391.2" y="57.37" font-size="10.2" font-weight="bold" text-anchor="end" fill="#000">1.5</text>
<line x1="392.3" y1="26.2" x2="397.8" y2="26.2" stroke="#000" stroke-width="1.8"/>
<text x="391.2" y="29.87" font-size="10.2" font-weight="bold" text-anchor="end" fill="#000">2.0</text>
<line x1="397.8" y1="136.2" x2="397.8" y2="141.7" stroke="#000" stroke-width="1.8"/>
<text x="397.8" y="151.6" font-size="10.2" font-weight="bold" text-anchor="middle" fill="#000">0.0</text>
<line x1="425.3" y1="136.2" x2="425.3" y2="141.7" stroke="#000" stroke-width="1.8"/>
<text x="425.3" y="151.6" font-size="10.2" font-weight="bold" text-anchor="middle" fill="#000">0.5</text>
<line x1="452.8" y1="136.2" x2="452.8" y2="141.7" stroke="#000" stroke-width="1.8"/>
<text x="452.8" y="151.6" font-size="10.2" font-weight="bold" text-anchor="middle" fill="#000">1.0</text>
<line x1="480.3" y1="136.2" x2="480.3" y2="141.7" stroke="#000" stroke-width="1.8"/>
<text x="480.3" y="151.6" font-size="10.2" font-weight="bold" text-anchor="middle" fill="#000">1.5</text>
<line x1="507.8" y1="136.2" x2="507.8" y2="141.7" stroke="#000" stroke-width="1.8"/>
<text x="507.8" y="151.6" font-size="10.2" font-weight="bold" text-anchor="middle" fill="#000">2.0</text>
<clipPath id="cl1"><rect x="398.7" y="26.2" width="110" height="109.1"/></clipPath>
<g clip-path="url(#cl1)">
<path d="M434.2,35.5 L436.08,37.63 L437.96,39.76 L439.84,41.87 L441.72,43.98 L443.6,46.08 L445.48,48.16 L447.36,50.23 L449.24,52.27 L451.12,54.28 L453,56.26 L454.88,58.2 L456.76,60.08 L458.64,61.91 L460.52,63.67 L462.4,65.37 L464.28,67.01 L466.16,68.61 L468.04,70.16 L469.92,71.68 L471.8,73.17 L473.68,74.64 L475.56,76.09 L477.44,77.53 L479.32,78.96 L481.2,80.38 L483.08,81.8 L484.96,83.2 L486.84,84.61 L488.72,86.01 L490.6,87.4 L490.6,97.8 L488.72,95.87 L486.84,93.96 L484.96,92.06 L483.08,90.18 L481.2,88.31 L479.32,86.47 L477.44,84.65 L475.56,82.85 L473.68,81.07 L471.8,79.32 L469.92,77.59 L468.04,75.89 L466.16,74.21 L464.28,72.54 L462.4,70.89 L460.52,69.26 L458.64,67.64 L456.76,66.03 L454.88,64.43 L453,62.84 L451.12,61.26 L449.24,59.68 L447.36,58.11 L445.48,56.54 L443.6,54.98 L441.72,53.42 L439.84,51.86 L437.96,50.3 L436.08,48.75 L434.2,47.2 Z" fill="#d6bffb" fill-opacity="1" stroke="none"/>
<path d="M434.2,35.5 L436.08,37.63 L437.96,39.76 L439.84,41.87 L441.72,43.98 L443.6,46.08 L445.48,48.16 L447.36,50.23 L449.24,52.27 L451.12,54.28 L453,56.26 L454.88,58.2 L456.76,60.08 L458.64,61.91 L460.52,63.67 L462.4,65.37 L464.28,67.01 L466.16,68.61 L468.04,70.16 L469.92,71.68 L471.8,73.17 L473.68,74.64 L475.56,76.09 L477.44,77.53 L479.32,78.96 L481.2,80.38 L483.08,81.8 L484.96,83.2 L486.84,84.61 L488.72,86.01 L490.6,87.4" fill="none" stroke="#9b30ff" stroke-width="0.9"/>
<path d="M434.2,47.2 L436.08,48.75 L437.96,50.3 L439.84,51.86 L441.72,53.42 L443.6,54.98 L445.48,56.54 L447.36,58.11 L449.24,59.68 L451.12,61.26 L453,62.84 L454.88,64.43 L456.76,66.03 L458.64,67.64 L460.52,69.26 L462.4,70.89 L464.28,72.54 L466.16,74.21 L468.04,75.89 L469.92,77.59 L471.8,79.32 L473.68,81.07 L475.56,82.85 L477.44,84.65 L479.32,86.47 L481.2,88.31 L483.08,90.18 L484.96,92.06 L486.84,93.96 L488.72,95.87 L490.6,97.8" fill="none" stroke="#9b30ff" stroke-width="0.9"/>
<path d="M434.2,41.5 L490.6,94.6" fill="none" stroke="#1e1e1e" stroke-width="1"/>
</g>
<circle cx="433.9" cy="42.4" r="2.35" fill="#fff" stroke="#9b30ff" stroke-width="0.95"/>
<circle cx="440.5" cy="41" r="2.35" fill="#fff" stroke="#9b30ff" stroke-width="0.95"/>
<circle cx="448.4" cy="41.5" r="2.35" fill="#fff" stroke="#9b30ff" stroke-width="0.95"/>
<circle cx="441.4" cy="48.4" r="2.35" fill="#fff" stroke="#9b30ff" stroke-width="0.95"/>
<circle cx="453.7" cy="47.5" r="2.35" fill="#fff" stroke="#9b30ff" stroke-width="0.95"/>
<circle cx="450.7" cy="50.7" r="2.35" fill="#fff" stroke="#9b30ff" stroke-width="0.95"/>
<circle cx="455.4" cy="58.2" r="2.35" fill="#fff" stroke="#9b30ff" stroke-width="0.95"/>
<circle cx="440.2" cy="57.1" r="2.35" fill="#fff" stroke="#9b30ff" stroke-width="0.95"/>
<circle cx="450.7" cy="60.6" r="2.35" fill="#fff" stroke="#9b30ff" stroke-width="0.95"/>
<circle cx="450.7" cy="67.3" r="2.35" fill="#fff" stroke="#9b30ff" stroke-width="0.95"/>
<circle cx="452.5" cy="73.3" r="2.35" fill="#fff" stroke="#9b30ff" stroke-width="0.95"/>
<circle cx="463.7" cy="70.3" r="2.35" fill="#fff" stroke="#9b30ff" stroke-width="0.95"/>
<circle cx="466" cy="68.7" r="2.35" fill="#fff" stroke="#9b30ff" stroke-width="0.95"/>
<circle cx="470" cy="66.6" r="2.35" fill="#fff" stroke="#9b30ff" stroke-width="0.95"/>
<circle cx="473.3" cy="79.2" r="2.35" fill="#fff" stroke="#9b30ff" stroke-width="0.95"/>
<circle cx="479.1" cy="83.8" r="2.35" fill="#fff" stroke="#9b30ff" stroke-width="0.95"/>
<circle cx="488.2" cy="91.3" r="2.35" fill="#fff" stroke="#9b30ff" stroke-width="0.95"/>
<circle cx="490.8" cy="100" r="2.35" fill="#fff" stroke="#9b30ff" stroke-width="0.95"/>
<text x="425.1" y="166.9" font-size="12" font-weight="bold" fill="#000" textLength="46.24" lengthAdjust="spacingAndGlyphs">Log10 (I</text>
<text x="471.34" y="170.5" font-size="9.2" font-weight="bold" fill="#000" textLength="5.14" lengthAdjust="spacingAndGlyphs">0</text>
<text x="476.48" y="166.9" font-size="12" font-weight="bold" fill="#000" textLength="4.02" lengthAdjust="spacingAndGlyphs">)</text>
<g transform="translate(369.3,79.1) rotate(-90)">
<text x="-50.5" y="0" font-size="11.6" font-weight="bold" fill="#000" textLength="44.78" lengthAdjust="spacingAndGlyphs">Log10 (I</text>
<text x="-5.72" y="4" font-size="9" font-weight="bold" fill="#000" textLength="40.8" lengthAdjust="spacingAndGlyphs">C18:2 n-6</text>
<text x="35.08" y="0" font-size="11.6" font-weight="bold" fill="#000" textLength="6.49" lengthAdjust="spacingAndGlyphs">/I</text>
<text x="41.57" y="4" font-size="9" font-weight="bold" fill="#000" textLength="5.04" lengthAdjust="spacingAndGlyphs">0</text>
<text x="46.61" y="0" font-size="11.6" font-weight="bold" fill="#000" textLength="3.89" lengthAdjust="spacingAndGlyphs">)</text>
</g>
<text x="402.2" y="118.7" font-size="9" font-weight="normal" fill="#222">R</text>
<text x="408.7" y="115.2" font-size="6.4" font-weight="normal" fill="#222">2</text>
<text x="413.6" y="118.7" font-size="9" font-weight="normal" fill="#222" textLength="23.5" lengthAdjust="spacingAndGlyphs">= 0.82</text>
<text x="402.2" y="127.6" font-size="9" font-weight="normal" fill="#222" textLength="62.2" lengthAdjust="spacingAndGlyphs">p-value = 0.0001</text>
<rect x="560.9" y="25.5" width="109.1" height="109.1" fill="#f1f5f9"/>
<line x1="560" y1="24.6" x2="560" y2="136.4" stroke="#000" stroke-width="1.8"/>
<line x1="559.1" y1="135.5" x2="670.9" y2="135.5" stroke="#000" stroke-width="1.8"/>
<line x1="554.5" y1="135.5" x2="560" y2="135.5" stroke="#000" stroke-width="1.8"/>
<text x="553.4" y="139.17" font-size="10.2" font-weight="bold" text-anchor="end" fill="#000">0.0</text>
<line x1="554.5" y1="108" x2="560" y2="108" stroke="#000" stroke-width="1.8"/>
<text x="553.4" y="111.67" font-size="10.2" font-weight="bold" text-anchor="end" fill="#000">0.5</text>
<line x1="554.5" y1="80.5" x2="560" y2="80.5" stroke="#000" stroke-width="1.8"/>
<text x="553.4" y="84.17" font-size="10.2" font-weight="bold" text-anchor="end" fill="#000">1.0</text>
<line x1="554.5" y1="53" x2="560" y2="53" stroke="#000" stroke-width="1.8"/>
<text x="553.4" y="56.67" font-size="10.2" font-weight="bold" text-anchor="end" fill="#000">1.5</text>
<line x1="554.5" y1="25.5" x2="560" y2="25.5" stroke="#000" stroke-width="1.8"/>
<text x="553.4" y="29.17" font-size="10.2" font-weight="bold" text-anchor="end" fill="#000">2.0</text>
<line x1="560" y1="135.5" x2="560" y2="141" stroke="#000" stroke-width="1.8"/>
<text x="560" y="150.9" font-size="10.2" font-weight="bold" text-anchor="middle" fill="#000">0.0</text>
<line x1="587.5" y1="135.5" x2="587.5" y2="141" stroke="#000" stroke-width="1.8"/>
<text x="587.5" y="150.9" font-size="10.2" font-weight="bold" text-anchor="middle" fill="#000">0.5</text>
<line x1="615" y1="135.5" x2="615" y2="141" stroke="#000" stroke-width="1.8"/>
<text x="615" y="150.9" font-size="10.2" font-weight="bold" text-anchor="middle" fill="#000">1.0</text>
<line x1="642.5" y1="135.5" x2="642.5" y2="141" stroke="#000" stroke-width="1.8"/>
<text x="642.5" y="150.9" font-size="10.2" font-weight="bold" text-anchor="middle" fill="#000">1.5</text>
<line x1="670" y1="135.5" x2="670" y2="141" stroke="#000" stroke-width="1.8"/>
<text x="670" y="150.9" font-size="10.2" font-weight="bold" text-anchor="middle" fill="#000">2.0</text>
<clipPath id="cl2"><rect x="560.9" y="25.5" width="110" height="109.1"/></clipPath>
<g clip-path="url(#cl2)">
<path d="M613.8,64.05 L614.68,65 L615.55,65.94 L616.43,66.86 L617.31,67.76 L618.18,68.63 L619.06,69.49 L619.94,70.31 L620.81,71.1 L621.69,71.85 L622.57,72.56 L623.44,73.22 L624.32,73.83 L625.2,74.39 L626.07,74.89 L626.95,75.33 L627.83,75.71 L628.7,76.04 L629.58,76.31 L630.46,76.54 L631.33,76.73 L632.21,76.87 L633.09,76.98 L633.96,77.06 L634.84,77.12 L635.72,77.15 L636.59,77.16 L637.47,77.15 L638.35,77.13 L639.22,77.1 L640.1,77.05 L640.1,100.75 L639.22,99.78 L638.35,98.82 L637.47,97.87 L636.59,96.94 L635.72,96.02 L634.84,95.12 L633.96,94.25 L633.09,93.41 L632.21,92.59 L631.33,91.81 L630.46,91.07 L629.58,90.37 L628.7,89.72 L627.83,89.12 L626.95,88.57 L626.07,88.09 L625.2,87.66 L624.32,87.29 L623.44,86.97 L622.57,86.71 L621.69,86.49 L620.81,86.31 L619.94,86.18 L619.06,86.07 L618.18,86 L617.31,85.95 L616.43,85.92 L615.55,85.92 L614.68,85.93 L613.8,85.95 Z" fill="#a9dbdb" fill-opacity="1" stroke="none"/>
<path d="M613.8,64.05 L614.68,65 L615.55,65.94 L616.43,66.86 L617.31,67.76 L618.18,68.63 L619.06,69.49 L619.94,70.31 L620.81,71.1 L621.69,71.85 L622.57,72.56 L623.44,73.22 L624.32,73.83 L625.2,74.39 L626.07,74.89 L626.95,75.33 L627.83,75.71 L628.7,76.04 L629.58,76.31 L630.46,76.54 L631.33,76.73 L632.21,76.87 L633.09,76.98 L633.96,77.06 L634.84,77.12 L635.72,77.15 L636.59,77.16 L637.47,77.15 L638.35,77.13 L639.22,77.1 L640.1,77.05" fill="none" stroke="#139393" stroke-width="0.9"/>
<path d="M613.8,85.95 L614.68,85.93 L615.55,85.92 L616.43,85.92 L617.31,85.95 L618.18,86 L619.06,86.07 L619.94,86.18 L620.81,86.31 L621.69,86.49 L622.57,86.71 L623.44,86.97 L624.32,87.29 L625.2,87.66 L626.07,88.09 L626.95,88.57 L627.83,89.12 L628.7,89.72 L629.58,90.37 L630.46,91.07 L631.33,91.81 L632.21,92.59 L633.09,93.41 L633.96,94.25 L634.84,95.12 L635.72,96.02 L636.59,96.94 L637.47,97.87 L638.35,98.82 L639.22,99.78 L640.1,100.75" fill="none" stroke="#139393" stroke-width="0.9"/>
<path d="M613.8,75 L640.1,88.9" fill="none" stroke="#1e1e1e" stroke-width="1"/>
</g>
<circle cx="618.2" cy="70.6" r="2.35" fill="#fff" stroke="#139393" stroke-width="0.95"/>
<circle cx="614.4" cy="73.2" r="2.35" fill="#fff" stroke="#139393" stroke-width="0.95"/>
<circle cx="613.8" cy="79.6" r="2.35" fill="#fff" stroke="#139393" stroke-width="0.95"/>
<circle cx="625.8" cy="86.3" r="2.35" fill="#fff" stroke="#139393" stroke-width="0.95"/>
<circle cx="633.1" cy="86.6" r="2.35" fill="#fff" stroke="#139393" stroke-width="0.95"/>
<circle cx="637.2" cy="85.5" r="2.35" fill="#fff" stroke="#139393" stroke-width="0.95"/>
<circle cx="640.3" cy="87.8" r="2.35" fill="#fff" stroke="#139393" stroke-width="0.95"/>
<text x="587.3" y="166.2" font-size="12" font-weight="bold" fill="#000" textLength="46.24" lengthAdjust="spacingAndGlyphs">Log10 (I</text>
<text x="633.54" y="169.8" font-size="9.2" font-weight="bold" fill="#000" textLength="5.14" lengthAdjust="spacingAndGlyphs">0</text>
<text x="638.68" y="166.2" font-size="12" font-weight="bold" fill="#000" textLength="4.02" lengthAdjust="spacingAndGlyphs">)</text>
<g transform="translate(531.5,78.4) rotate(-90)">
<text x="-50.5" y="0" font-size="11.6" font-weight="bold" fill="#000" textLength="44.78" lengthAdjust="spacingAndGlyphs">Log10 (I</text>
<text x="-5.72" y="4" font-size="9" font-weight="bold" fill="#000" textLength="40.8" lengthAdjust="spacingAndGlyphs">C20:2 n-6</text>
<text x="35.08" y="0" font-size="11.6" font-weight="bold" fill="#000" textLength="6.49" lengthAdjust="spacingAndGlyphs">/I</text>
<text x="41.57" y="4" font-size="9" font-weight="bold" fill="#000" textLength="5.04" lengthAdjust="spacingAndGlyphs">0</text>
<text x="46.61" y="0" font-size="11.6" font-weight="bold" fill="#000" textLength="3.89" lengthAdjust="spacingAndGlyphs">)</text>
</g>
<text x="571.6" y="118.8" font-size="9" font-weight="normal" fill="#222">R</text>
<text x="578.1" y="115.3" font-size="6.4" font-weight="normal" fill="#222">2</text>
<text x="583" y="118.8" font-size="9" font-weight="normal" fill="#222" textLength="23.5" lengthAdjust="spacingAndGlyphs">= 0.66</text>
<text x="571.6" y="128.2" font-size="9" font-weight="normal" fill="#222" textLength="57.5" lengthAdjust="spacingAndGlyphs">p-value = 0.027</text>
<rect x="398.7" y="192.7" width="109.1" height="109.1" fill="#f1f5f9"/>
<line x1="397.8" y1="191.8" x2="397.8" y2="303.6" stroke="#000" stroke-width="1.8"/>
<line x1="396.9" y1="302.7" x2="508.7" y2="302.7" stroke="#000" stroke-width="1.8"/>
<line x1="392.3" y1="302.7" x2="397.8" y2="302.7" stroke="#000" stroke-width="1.8"/>
<text x="391.2" y="306.37" font-size="10.2" font-weight="bold" text-anchor="end" fill="#000">0.0</text>
<line x1="392.3" y1="275.2" x2="397.8" y2="275.2" stroke="#000" stroke-width="1.8"/>
<text x="391.2" y="278.87" font-size="10.2" font-weight="bold" text-anchor="end" fill="#000">0.5</text>
<line x1="392.3" y1="247.7" x2="397.8" y2="247.7" stroke="#000" stroke-width="1.8"/>
<text x="391.2" y="251.37" font-size="10.2" font-weight="bold" text-anchor="end" fill="#000">1.0</text>
<line x1="392.3" y1="220.2" x2="397.8" y2="220.2" stroke="#000" stroke-width="1.8"/>
<text x="391.2" y="223.87" font-size="10.2" font-weight="bold" text-anchor="end" fill="#000">1.5</text>
<line x1="392.3" y1="192.7" x2="397.8" y2="192.7" stroke="#000" stroke-width="1.8"/>
<text x="391.2" y="196.37" font-size="10.2" font-weight="bold" text-anchor="end" fill="#000">2.0</text>
<line x1="397.8" y1="302.7" x2="397.8" y2="308.2" stroke="#000" stroke-width="1.8"/>
<text x="397.8" y="318.1" font-size="10.2" font-weight="bold" text-anchor="middle" fill="#000">0.0</text>
<line x1="425.3" y1="302.7" x2="425.3" y2="308.2" stroke="#000" stroke-width="1.8"/>
<text x="425.3" y="318.1" font-size="10.2" font-weight="bold" text-anchor="middle" fill="#000">0.5</text>
<line x1="452.8" y1="302.7" x2="452.8" y2="308.2" stroke="#000" stroke-width="1.8"/>
<text x="452.8" y="318.1" font-size="10.2" font-weight="bold" text-anchor="middle" fill="#000">1.0</text>
<line x1="480.3" y1="302.7" x2="480.3" y2="308.2" stroke="#000" stroke-width="1.8"/>
<text x="480.3" y="318.1" font-size="10.2" font-weight="bold" text-anchor="middle" fill="#000">1.5</text>
<line x1="507.8" y1="302.7" x2="507.8" y2="308.2" stroke="#000" stroke-width="1.8"/>
<text x="507.8" y="318.1" font-size="10.2" font-weight="bold" text-anchor="middle" fill="#000">2.0</text>
<clipPath id="cl3"><rect x="398.7" y="192.7" width="110" height="109.1"/></clipPath>
<g clip-path="url(#cl3)">
<path d="M431.1,225.55 L433.09,227.15 L435.09,228.75 L437.08,230.35 L439.07,231.93 L441.07,233.51 L443.06,235.08 L445.05,236.64 L447.05,238.19 L449.04,239.71 L451.03,241.21 L453.03,242.67 L455.02,244.09 L457.01,245.46 L459.01,246.77 L461,248 L462.99,249.16 L464.99,250.24 L466.98,251.27 L468.97,252.24 L470.97,253.17 L472.96,254.07 L474.95,254.94 L476.95,255.8 L478.94,256.64 L480.93,257.47 L482.93,258.29 L484.92,259.1 L486.91,259.9 L488.91,260.7 L490.9,261.5 L490.9,275.5 L488.91,273.9 L486.91,272.3 L484.92,270.7 L482.93,269.11 L480.93,267.53 L478.94,265.96 L476.95,264.4 L474.95,262.86 L472.96,261.33 L470.97,259.83 L468.97,258.36 L466.98,256.93 L464.99,255.56 L462.99,254.24 L461,253 L459.01,251.83 L457.01,250.74 L455.02,249.71 L453.03,248.73 L451.03,247.79 L449.04,246.89 L447.05,246.01 L445.05,245.16 L443.06,244.32 L441.07,243.49 L439.07,242.67 L437.08,241.85 L435.09,241.05 L433.09,240.25 L431.1,239.45 Z" fill="#dcc2a4" fill-opacity="1" stroke="none"/>
<path d="M431.1,225.55 L433.09,227.15 L435.09,228.75 L437.08,230.35 L439.07,231.93 L441.07,233.51 L443.06,235.08 L445.05,236.64 L447.05,238.19 L449.04,239.71 L451.03,241.21 L453.03,242.67 L455.02,244.09 L457.01,245.46 L459.01,246.77 L461,248 L462.99,249.16 L464.99,250.24 L466.98,251.27 L468.97,252.24 L470.97,253.17 L472.96,254.07 L474.95,254.94 L476.95,255.8 L478.94,256.64 L480.93,257.47 L482.93,258.29 L484.92,259.1 L486.91,259.9 L488.91,260.7 L490.9,261.5" fill="none" stroke="#a65c0c" stroke-width="0.9"/>
<path d="M431.1,239.45 L433.09,240.25 L435.09,241.05 L437.08,241.85 L439.07,242.67 L441.07,243.49 L443.06,244.32 L445.05,245.16 L447.05,246.01 L449.04,246.89 L451.03,247.79 L453.03,248.73 L455.02,249.71 L457.01,250.74 L459.01,251.83 L461,253 L462.99,254.24 L464.99,255.56 L466.98,256.93 L468.97,258.36 L470.97,259.83 L472.96,261.33 L474.95,262.86 L476.95,264.4 L478.94,265.96 L480.93,267.53 L482.93,269.11 L484.92,270.7 L486.91,272.3 L488.91,273.9 L490.9,275.5" fill="none" stroke="#a65c0c" stroke-width="0.9"/>
<path d="M431.1,232.5 L490.9,268.5" fill="none" stroke="#1e1e1e" stroke-width="1"/>
</g>
<circle cx="434.2" cy="222" r="2.35" fill="#fff" stroke="#a65c0c" stroke-width="0.95"/>
<circle cx="432.8" cy="233.5" r="2.35" fill="#fff" stroke="#a65c0c" stroke-width="0.95"/>
<circle cx="431.3" cy="242.1" r="2.35" fill="#fff" stroke="#a65c0c" stroke-width="0.95"/>
<circle cx="436.9" cy="242.1" r="2.35" fill="#fff" stroke="#a65c0c" stroke-width="0.95"/>
<circle cx="443.1" cy="237" r="2.35" fill="#fff" stroke="#a65c0c" stroke-width="0.95"/>
<circle cx="454.2" cy="239.8" r="2.35" fill="#fff" stroke="#a65c0c" stroke-width="0.95"/>
<circle cx="468.8" cy="250.4" r="2.35" fill="#fff" stroke="#a65c0c" stroke-width="0.95"/>
<circle cx="475.6" cy="254.5" r="2.35" fill="#fff" stroke="#a65c0c" stroke-width="0.95"/>
<circle cx="472.9" cy="259.6" r="2.35" fill="#fff" stroke="#a65c0c" stroke-width="0.95"/>
<circle cx="474.3" cy="264" r="2.35" fill="#fff" stroke="#a65c0c" stroke-width="0.95"/>
<circle cx="474.3" cy="267.6" r="2.35" fill="#fff" stroke="#a65c0c" stroke-width="0.95"/>
<circle cx="490.4" cy="268.4" r="2.35" fill="#fff" stroke="#a65c0c" stroke-width="0.95"/>
<text x="425.1" y="333.4" font-size="12" font-weight="bold" fill="#000" textLength="46.24" lengthAdjust="spacingAndGlyphs">Log10 (I</text>
<text x="471.34" y="337" font-size="9.2" font-weight="bold" fill="#000" textLength="5.14" lengthAdjust="spacingAndGlyphs">0</text>
<text x="476.48" y="333.4" font-size="12" font-weight="bold" fill="#000" textLength="4.02" lengthAdjust="spacingAndGlyphs">)</text>
<g transform="translate(369.3,245.6) rotate(-90)">
<text x="-50.5" y="0" font-size="11.6" font-weight="bold" fill="#000" textLength="44.78" lengthAdjust="spacingAndGlyphs">Log10 (I</text>
<text x="-5.72" y="4" font-size="9" font-weight="bold" fill="#000" textLength="40.8" lengthAdjust="spacingAndGlyphs">C20:4 n-3</text>
<text x="35.08" y="0" font-size="11.6" font-weight="bold" fill="#000" textLength="6.49" lengthAdjust="spacingAndGlyphs">/I</text>
<text x="41.57" y="4" font-size="9" font-weight="bold" fill="#000" textLength="5.04" lengthAdjust="spacingAndGlyphs">0</text>
<text x="46.61" y="0" font-size="11.6" font-weight="bold" fill="#000" textLength="3.89" lengthAdjust="spacingAndGlyphs">)</text>
</g>
<rect x="443.4" y="264.5" width="5" height="5" fill="#1c1418"/>
<circle cx="445.9" cy="267" r="1.25" fill="none" stroke="#b87a3a" stroke-width="0.8"/>
<text x="440.6" y="204.7" font-size="9" font-weight="normal" fill="#222">R</text>
<text x="447.1" y="201.2" font-size="6.4" font-weight="normal" fill="#222">2</text>
<text x="452" y="204.7" font-size="9" font-weight="normal" fill="#222" textLength="23.5" lengthAdjust="spacingAndGlyphs">= 0.80</text>
<text x="440.6" y="213.9" font-size="9" font-weight="normal" fill="#222" textLength="62.2" lengthAdjust="spacingAndGlyphs">p-value = 0.0001</text>
<line x1="402" y1="283.8" x2="413.8" y2="283.8" stroke="#1a1a1a" stroke-width="0.9"/>
<circle cx="407.9" cy="283.8" r="2.35" fill="#fff" stroke="#a65c0c" stroke-width="0.95"/>
<text x="421" y="287" font-size="9.6" font-weight="normal" fill="#111" textLength="31" lengthAdjust="spacingAndGlyphs">ETA n-3</text>
<line x1="402" y1="295" x2="413.8" y2="295" stroke="#999" stroke-width="0.9"/>
<rect x="405.3" y="292.5" width="5" height="5" fill="#1c1418"/>
<circle cx="407.8" cy="295" r="1.25" fill="none" stroke="#b87a3a" stroke-width="0.8"/>
<text x="421" y="298.3" font-size="9.6" font-weight="normal" fill="#111" textLength="28.5" lengthAdjust="spacingAndGlyphs">discard</text>
<rect x="560.9" y="192.3" width="109.1" height="109.1" fill="#f1f5f9"/>
<line x1="560" y1="191.4" x2="560" y2="303.2" stroke="#000" stroke-width="1.8"/>
<line x1="559.1" y1="302.3" x2="670.9" y2="302.3" stroke="#000" stroke-width="1.8"/>
<line x1="554.5" y1="302.3" x2="560" y2="302.3" stroke="#000" stroke-width="1.8"/>
<text x="553.4" y="305.97" font-size="10.2" font-weight="bold" text-anchor="end" fill="#000">0.0</text>
<line x1="554.5" y1="274.8" x2="560" y2="274.8" stroke="#000" stroke-width="1.8"/>
<text x="553.4" y="278.47" font-size="10.2" font-weight="bold" text-anchor="end" fill="#000">0.5</text>
<line x1="554.5" y1="247.3" x2="560" y2="247.3" stroke="#000" stroke-width="1.8"/>
<text x="553.4" y="250.97" font-size="10.2" font-weight="bold" text-anchor="end" fill="#000">1.0</text>
<line x1="554.5" y1="219.8" x2="560" y2="219.8" stroke="#000" stroke-width="1.8"/>
<text x="553.4" y="223.47" font-size="10.2" font-weight="bold" text-anchor="end" fill="#000">1.5</text>
<line x1="554.5" y1="192.3" x2="560" y2="192.3" stroke="#000" stroke-width="1.8"/>
<text x="553.4" y="195.97" font-size="10.2" font-weight="bold" text-anchor="end" fill="#000">2.0</text>
<line x1="560" y1="302.3" x2="560" y2="307.8" stroke="#000" stroke-width="1.8"/>
<text x="560" y="317.7" font-size="10.2" font-weight="bold" text-anchor="middle" fill="#000">0.0</text>
<line x1="587.5" y1="302.3" x2="587.5" y2="307.8" stroke="#000" stroke-width="1.8"/>
<text x="587.5" y="317.7" font-size="10.2" font-weight="bold" text-anchor="middle" fill="#000">0.5</text>
<line x1="615" y1="302.3" x2="615" y2="307.8" stroke="#000" stroke-width="1.8"/>
<text x="615" y="317.7" font-size="10.2" font-weight="bold" text-anchor="middle" fill="#000">1.0</text>
<line x1="642.5" y1="302.3" x2="642.5" y2="307.8" stroke="#000" stroke-width="1.8"/>
<text x="642.5" y="317.7" font-size="10.2" font-weight="bold" text-anchor="middle" fill="#000">1.5</text>
<line x1="670" y1="302.3" x2="670" y2="307.8" stroke="#000" stroke-width="1.8"/>
<text x="670" y="317.7" font-size="10.2" font-weight="bold" text-anchor="middle" fill="#000">2.0</text>
<clipPath id="cl4"><rect x="560.9" y="192.3" width="110" height="109.1"/></clipPath>
<g clip-path="url(#cl4)">
<path d="M588.3,197.45 L590.38,199.91 L592.46,202.35 L594.54,204.8 L596.62,207.23 L598.7,209.65 L600.78,212.06 L602.86,214.46 L604.94,216.83 L607.02,219.18 L609.1,221.5 L611.18,223.79 L613.26,226.02 L615.34,228.2 L617.42,230.29 L619.5,232.3 L621.58,234.2 L623.66,235.97 L625.74,237.62 L627.82,239.14 L629.9,240.56 L631.98,241.88 L634.06,243.13 L636.14,244.32 L638.22,245.45 L640.3,246.55 L642.38,247.62 L644.46,248.67 L646.54,249.69 L648.62,250.7 L650.7,251.7 L650.7,274.7 L648.62,272.28 L646.54,269.87 L644.46,267.47 L642.38,265.1 L640.3,262.75 L638.22,260.43 L636.14,258.14 L634.06,255.91 L631.98,253.74 L629.9,251.64 L627.82,249.64 L625.74,247.74 L623.66,245.97 L621.58,244.32 L619.5,242.8 L617.42,241.39 L615.34,240.06 L613.26,238.82 L611.18,237.63 L609.1,236.5 L607.02,235.4 L604.94,234.33 L602.86,233.28 L600.78,232.26 L598.7,231.25 L596.62,230.25 L594.54,229.26 L592.46,228.29 L590.38,227.31 L588.3,226.35 Z" fill="#f6b3d6" fill-opacity="1" stroke="none"/>
<path d="M588.3,197.45 L590.38,199.91 L592.46,202.35 L594.54,204.8 L596.62,207.23 L598.7,209.65 L600.78,212.06 L602.86,214.46 L604.94,216.83 L607.02,219.18 L609.1,221.5 L611.18,223.79 L613.26,226.02 L615.34,228.2 L617.42,230.29 L619.5,232.3 L621.58,234.2 L623.66,235.97 L625.74,237.62 L627.82,239.14 L629.9,240.56 L631.98,241.88 L634.06,243.13 L636.14,244.32 L638.22,245.45 L640.3,246.55 L642.38,247.62 L644.46,248.67 L646.54,249.69 L648.62,250.7 L650.7,251.7" fill="none" stroke="#ef3190" stroke-width="0.9"/>
<path d="M588.3,226.35 L590.38,227.31 L592.46,228.29 L594.54,229.26 L596.62,230.25 L598.7,231.25 L600.78,232.26 L602.86,233.28 L604.94,234.33 L607.02,235.4 L609.1,236.5 L611.18,237.63 L613.26,238.82 L615.34,240.06 L617.42,241.39 L619.5,242.8 L621.58,244.32 L623.66,245.97 L625.74,247.74 L627.82,249.64 L629.9,251.64 L631.98,253.74 L634.06,255.91 L636.14,258.14 L638.22,260.43 L640.3,262.75 L642.38,265.1 L644.46,267.47 L646.54,269.87 L648.62,272.28 L650.7,274.7" fill="none" stroke="#ef3190" stroke-width="0.9"/>
<path d="M588.3,211.9 L650.7,263.2" fill="none" stroke="#1e1e1e" stroke-width="1"/>
</g>
<circle cx="588.3" cy="232.1" r="2.35" fill="#fff" stroke="#ef3190" stroke-width="0.95"/>
<circle cx="605.9" cy="217.5" r="2.35" fill="#fff" stroke="#ef3190" stroke-width="0.95"/>
<circle cx="620.7" cy="220.5" r="2.35" fill="#fff" stroke="#ef3190" stroke-width="0.95"/>
<circle cx="614.8" cy="228.9" r="2.35" fill="#fff" stroke="#ef3190" stroke-width="0.95"/>
<circle cx="618.3" cy="228.1" r="2.35" fill="#fff" stroke="#ef3190" stroke-width="0.95"/>
<circle cx="620.7" cy="232.7" r="2.35" fill="#fff" stroke="#ef3190" stroke-width="0.95"/>
<circle cx="624.8" cy="231.8" r="2.35" fill="#fff" stroke="#ef3190" stroke-width="0.95"/>
<circle cx="618.3" cy="239.7" r="2.35" fill="#fff" stroke="#ef3190" stroke-width="0.95"/>
<circle cx="625.6" cy="238.9" r="2.35" fill="#fff" stroke="#ef3190" stroke-width="0.95"/>
<circle cx="627.5" cy="245.6" r="2.35" fill="#fff" stroke="#ef3190" stroke-width="0.95"/>
<circle cx="630.2" cy="241.6" r="2.35" fill="#fff" stroke="#ef3190" stroke-width="0.95"/>
<circle cx="631.5" cy="240.8" r="2.35" fill="#fff" stroke="#ef3190" stroke-width="0.95"/>
<circle cx="629.6" cy="248.3" r="2.35" fill="#fff" stroke="#ef3190" stroke-width="0.95"/>
<circle cx="616.1" cy="248.9" r="2.35" fill="#fff" stroke="#ef3190" stroke-width="0.95"/>
<circle cx="632.9" cy="266.4" r="2.35" fill="#fff" stroke="#ef3190" stroke-width="0.95"/>
<circle cx="650.7" cy="279.4" r="2.35" fill="#fff" stroke="#ef3190" stroke-width="0.95"/>
<text x="587.3" y="333" font-size="12" font-weight="bold" fill="#000" textLength="46.24" lengthAdjust="spacingAndGlyphs">Log10 (I</text>
<text x="633.54" y="336.6" font-size="9.2" font-weight="bold" fill="#000" textLength="5.14" lengthAdjust="spacingAndGlyphs">0</text>
<text x="638.68" y="333" font-size="12" font-weight="bold" fill="#000" textLength="4.02" lengthAdjust="spacingAndGlyphs">)</text>
<g transform="translate(531.5,245.2) rotate(-90)">
<text x="-50.5" y="0" font-size="11.6" font-weight="bold" fill="#000" textLength="44.78" lengthAdjust="spacingAndGlyphs">Log10 (I</text>
<text x="-5.72" y="4" font-size="9" font-weight="bold" fill="#000" textLength="40.8" lengthAdjust="spacingAndGlyphs">C20:4 n-6</text>
<text x="35.08" y="0" font-size="11.6" font-weight="bold" fill="#000" textLength="6.49" lengthAdjust="spacingAndGlyphs">/I</text>
<text x="41.57" y="4" font-size="9" font-weight="bold" fill="#000" textLength="5.04" lengthAdjust="spacingAndGlyphs">0</text>
<text x="46.61" y="0" font-size="11.6" font-weight="bold" fill="#000" textLength="3.89" lengthAdjust="spacingAndGlyphs">)</text>
</g>
<rect x="597.1" y="255.6" width="5" height="5" fill="#1c1418"/>
<path d="M598.5,257l2.2,2.2M600.7,257l-2.2,2.2" stroke="#e0609a" stroke-width="0.8"/>
<text x="605.9" y="204.6" font-size="9" font-weight="normal" fill="#222">R</text>
<text x="612.4" y="201.1" font-size="6.4" font-weight="normal" fill="#222">2</text>
<text x="617.3" y="204.6" font-size="9" font-weight="normal" fill="#222" textLength="23.5" lengthAdjust="spacingAndGlyphs">= 0.50</text>
<text x="605.9" y="213.7" font-size="9" font-weight="normal" fill="#222" textLength="57.5" lengthAdjust="spacingAndGlyphs">p-value = 0.002</text>
<line x1="566.4" y1="283.8" x2="578.8" y2="283.8" stroke="#999" stroke-width="0.9"/>
<circle cx="572.6" cy="283.8" r="2.35" fill="#fff" stroke="#ef3190" stroke-width="0.95"/>
<text x="585.9" y="287" font-size="9.6" font-weight="normal" fill="#111" textLength="31" lengthAdjust="spacingAndGlyphs">ETA n-6</text>
<line x1="566.4" y1="294.3" x2="578.8" y2="294.3" stroke="#1a1a1a" stroke-width="0.9"/>
<rect x="570.1" y="291.8" width="5" height="5" fill="#1c1418"/>
<path d="M571.5,293.2l2.2,2.2M573.7,293.2l-2.2,2.2" stroke="#e0609a" stroke-width="0.8"/>
<text x="585.9" y="298.3" font-size="9.6" font-weight="normal" fill="#111" textLength="28.5" lengthAdjust="spacingAndGlyphs">discard</text>
<rect x="398.7" y="359.5" width="109.1" height="109.1" fill="#f1f5f9"/>
<line x1="397.8" y1="358.6" x2="397.8" y2="470.4" stroke="#000" stroke-width="1.8"/>
<line x1="396.9" y1="469.5" x2="508.7" y2="469.5" stroke="#000" stroke-width="1.8"/>
<line x1="392.3" y1="469.5" x2="397.8" y2="469.5" stroke="#000" stroke-width="1.8"/>
<text x="391.2" y="473.17" font-size="10.2" font-weight="bold" text-anchor="end" fill="#000">0.0</text>
<line x1="392.3" y1="442" x2="397.8" y2="442" stroke="#000" stroke-width="1.8"/>
<text x="391.2" y="445.67" font-size="10.2" font-weight="bold" text-anchor="end" fill="#000">0.5</text>
<line x1="392.3" y1="414.5" x2="397.8" y2="414.5" stroke="#000" stroke-width="1.8"/>
<text x="391.2" y="418.17" font-size="10.2" font-weight="bold" text-anchor="end" fill="#000">1.0</text>
<line x1="392.3" y1="387" x2="397.8" y2="387" stroke="#000" stroke-width="1.8"/>
<text x="391.2" y="390.67" font-size="10.2" font-weight="bold" text-anchor="end" fill="#000">1.5</text>
<line x1="392.3" y1="359.5" x2="397.8" y2="359.5" stroke="#000" stroke-width="1.8"/>
<text x="391.2" y="363.17" font-size="10.2" font-weight="bold" text-anchor="end" fill="#000">2.0</text>
<line x1="397.8" y1="469.5" x2="397.8" y2="475" stroke="#000" stroke-width="1.8"/>
<text x="397.8" y="484.9" font-size="10.2" font-weight="bold" text-anchor="middle" fill="#000">0.0</text>
<line x1="425.3" y1="469.5" x2="425.3" y2="475" stroke="#000" stroke-width="1.8"/>
<text x="425.3" y="484.9" font-size="10.2" font-weight="bold" text-anchor="middle" fill="#000">0.5</text>
<line x1="452.8" y1="469.5" x2="452.8" y2="475" stroke="#000" stroke-width="1.8"/>
<text x="452.8" y="484.9" font-size="10.2" font-weight="bold" text-anchor="middle" fill="#000">1.0</text>
<line x1="480.3" y1="469.5" x2="480.3" y2="475" stroke="#000" stroke-width="1.8"/>
<text x="480.3" y="484.9" font-size="10.2" font-weight="bold" text-anchor="middle" fill="#000">1.5</text>
<line x1="507.8" y1="469.5" x2="507.8" y2="475" stroke="#000" stroke-width="1.8"/>
<text x="507.8" y="484.9" font-size="10.2" font-weight="bold" text-anchor="middle" fill="#000">2.0</text>
<clipPath id="cl5"><rect x="398.7" y="359.5" width="110" height="109.1"/></clipPath>
<g clip-path="url(#cl5)">
<path d="M430.6,376.4 L432.68,378.44 L434.75,380.47 L436.83,382.49 L438.91,384.5 L440.98,386.49 L443.06,388.46 L445.14,390.4 L447.21,392.31 L449.29,394.18 L451.37,395.99 L453.44,397.74 L455.52,399.39 L457.6,400.95 L459.67,402.39 L461.75,403.73 L463.83,404.96 L465.9,406.11 L467.98,407.19 L470.06,408.21 L472.13,409.18 L474.21,410.13 L476.29,411.04 L478.36,411.94 L480.44,412.82 L482.52,413.69 L484.59,414.54 L486.67,415.39 L488.75,416.23 L490.82,417.07 L492.9,417.9 L492.9,440.7 L490.82,438.64 L488.75,436.59 L486.67,434.55 L484.59,432.51 L482.52,430.48 L480.44,428.46 L478.36,426.45 L476.29,424.46 L474.21,422.49 L472.13,420.55 L470.06,418.64 L467.98,416.77 L465.9,414.96 L463.83,413.22 L461.75,411.57 L459.67,410.02 L457.6,408.58 L455.52,407.25 L453.44,406.02 L451.37,404.87 L449.29,403.8 L447.21,402.78 L445.14,401.81 L443.06,400.86 L440.98,399.95 L438.91,399.05 L436.83,398.17 L434.75,397.3 L432.68,396.45 L430.6,395.6 Z" fill="#a8d8a8" fill-opacity="1" stroke="none"/>
<path d="M430.6,376.4 L432.68,378.44 L434.75,380.47 L436.83,382.49 L438.91,384.5 L440.98,386.49 L443.06,388.46 L445.14,390.4 L447.21,392.31 L449.29,394.18 L451.37,395.99 L453.44,397.74 L455.52,399.39 L457.6,400.95 L459.67,402.39 L461.75,403.73 L463.83,404.96 L465.9,406.11 L467.98,407.19 L470.06,408.21 L472.13,409.18 L474.21,410.13 L476.29,411.04 L478.36,411.94 L480.44,412.82 L482.52,413.69 L484.59,414.54 L486.67,415.39 L488.75,416.23 L490.82,417.07 L492.9,417.9" fill="none" stroke="#149a18" stroke-width="0.9"/>
<path d="M430.6,395.6 L432.68,396.45 L434.75,397.3 L436.83,398.17 L438.91,399.05 L440.98,399.95 L443.06,400.86 L445.14,401.81 L447.21,402.78 L449.29,403.8 L451.37,404.87 L453.44,406.02 L455.52,407.25 L457.6,408.58 L459.67,410.02 L461.75,411.57 L463.83,413.22 L465.9,414.96 L467.98,416.77 L470.06,418.64 L472.13,420.55 L474.21,422.49 L476.29,424.46 L478.36,426.45 L480.44,428.46 L482.52,430.48 L484.59,432.51 L486.67,434.55 L488.75,436.59 L490.82,438.64 L492.9,440.7" fill="none" stroke="#149a18" stroke-width="0.9"/>
<path d="M430.6,386 L492.9,429.3" fill="none" stroke="#1e1e1e" stroke-width="1"/>
</g>
<circle cx="430.6" cy="380.7" r="2.35" fill="#fff" stroke="#149a18" stroke-width="0.95"/>
<circle cx="436.7" cy="380" r="2.35" fill="#fff" stroke="#149a18" stroke-width="0.95"/>
<circle cx="457.4" cy="391.2" r="2.35" fill="#fff" stroke="#149a18" stroke-width="0.95"/>
<circle cx="450.4" cy="396.5" r="2.35" fill="#fff" stroke="#149a18" stroke-width="0.95"/>
<circle cx="461.4" cy="395.7" r="2.35" fill="#fff" stroke="#149a18" stroke-width="0.95"/>
<circle cx="455.1" cy="402.3" r="2.35" fill="#fff" stroke="#149a18" stroke-width="0.95"/>
<circle cx="461.4" cy="403.8" r="2.35" fill="#fff" stroke="#149a18" stroke-width="0.95"/>
<circle cx="463.5" cy="403.8" r="2.35" fill="#fff" stroke="#149a18" stroke-width="0.95"/>
<circle cx="467.4" cy="402.3" r="2.35" fill="#fff" stroke="#149a18" stroke-width="0.95"/>
<circle cx="444.6" cy="408.3" r="2.35" fill="#fff" stroke="#149a18" stroke-width="0.95"/>
<circle cx="439.8" cy="414.4" r="2.35" fill="#fff" stroke="#149a18" stroke-width="0.95"/>
<circle cx="469.5" cy="412.3" r="2.35" fill="#fff" stroke="#149a18" stroke-width="0.95"/>
<circle cx="463.5" cy="422.8" r="2.35" fill="#fff" stroke="#149a18" stroke-width="0.95"/>
<circle cx="466.9" cy="429.9" r="2.35" fill="#fff" stroke="#149a18" stroke-width="0.95"/>
<circle cx="485" cy="431.4" r="2.35" fill="#fff" stroke="#149a18" stroke-width="0.95"/>
<circle cx="492.9" cy="428.8" r="2.35" fill="#fff" stroke="#149a18" stroke-width="0.95"/>
<text x="425.1" y="500.2" font-size="12" font-weight="bold" fill="#000" textLength="46.24" lengthAdjust="spacingAndGlyphs">Log10 (I</text>
<text x="471.34" y="503.8" font-size="9.2" font-weight="bold" fill="#000" textLength="5.14" lengthAdjust="spacingAndGlyphs">0</text>
<text x="476.48" y="500.2" font-size="12" font-weight="bold" fill="#000" textLength="4.02" lengthAdjust="spacingAndGlyphs">)</text>
<g transform="translate(369.3,412.4) rotate(-90)">
<text x="-50.5" y="0" font-size="11.6" font-weight="bold" fill="#000" textLength="44.78" lengthAdjust="spacingAndGlyphs">Log10 (I</text>
<text x="-5.72" y="4" font-size="9" font-weight="bold" fill="#000" textLength="40.8" lengthAdjust="spacingAndGlyphs">C22:5 n-3</text>
<text x="35.08" y="0" font-size="11.6" font-weight="bold" fill="#000" textLength="6.49" lengthAdjust="spacingAndGlyphs">/I</text>
<text x="41.57" y="4" font-size="9" font-weight="bold" fill="#000" textLength="5.04" lengthAdjust="spacingAndGlyphs">0</text>
<text x="46.61" y="0" font-size="11.6" font-weight="bold" fill="#000" textLength="3.89" lengthAdjust="spacingAndGlyphs">)</text>
</g>
<text x="402.3" y="453.5" font-size="9" font-weight="normal" fill="#222">R</text>
<text x="408.8" y="450" font-size="6.4" font-weight="normal" fill="#222">2</text>
<text x="413.7" y="453.5" font-size="9" font-weight="normal" fill="#222" textLength="23.5" lengthAdjust="spacingAndGlyphs">= 0.53</text>
<text x="402.3" y="462.7" font-size="9" font-weight="normal" fill="#222" textLength="62.2" lengthAdjust="spacingAndGlyphs">p-value = 0.0008</text>
<rect x="560.9" y="359.6" width="109.1" height="109.1" fill="#f1f5f9"/>
<line x1="560" y1="358.7" x2="560" y2="470.5" stroke="#000" stroke-width="1.8"/>
<line x1="559.1" y1="469.6" x2="670.9" y2="469.6" stroke="#000" stroke-width="1.8"/>
<line x1="554.5" y1="469.6" x2="560" y2="469.6" stroke="#000" stroke-width="1.8"/>
<text x="553.4" y="473.27" font-size="10.2" font-weight="bold" text-anchor="end" fill="#000">0.0</text>
<line x1="554.5" y1="442.1" x2="560" y2="442.1" stroke="#000" stroke-width="1.8"/>
<text x="553.4" y="445.77" font-size="10.2" font-weight="bold" text-anchor="end" fill="#000">0.5</text>
<line x1="554.5" y1="414.6" x2="560" y2="414.6" stroke="#000" stroke-width="1.8"/>
<text x="553.4" y="418.27" font-size="10.2" font-weight="bold" text-anchor="end" fill="#000">1.0</text>
<line x1="554.5" y1="387.1" x2="560" y2="387.1" stroke="#000" stroke-width="1.8"/>
<text x="553.4" y="390.77" font-size="10.2" font-weight="bold" text-anchor="end" fill="#000">1.5</text>
<line x1="554.5" y1="359.6" x2="560" y2="359.6" stroke="#000" stroke-width="1.8"/>
<text x="553.4" y="363.27" font-size="10.2" font-weight="bold" text-anchor="end" fill="#000">2.0</text>
<line x1="560" y1="469.6" x2="560" y2="475.1" stroke="#000" stroke-width="1.8"/>
<text x="560" y="485" font-size="10.2" font-weight="bold" text-anchor="middle" fill="#000">0.0</text>
<line x1="587.5" y1="469.6" x2="587.5" y2="475.1" stroke="#000" stroke-width="1.8"/>
<text x="587.5" y="485" font-size="10.2" font-weight="bold" text-anchor="middle" fill="#000">0.5</text>
<line x1="615" y1="469.6" x2="615" y2="475.1" stroke="#000" stroke-width="1.8"/>
<text x="615" y="485" font-size="10.2" font-weight="bold" text-anchor="middle" fill="#000">1.0</text>
<line x1="642.5" y1="469.6" x2="642.5" y2="475.1" stroke="#000" stroke-width="1.8"/>
<text x="642.5" y="485" font-size="10.2" font-weight="bold" text-anchor="middle" fill="#000">1.5</text>
<line x1="670" y1="469.6" x2="670" y2="475.1" stroke="#000" stroke-width="1.8"/>
<text x="670" y="485" font-size="10.2" font-weight="bold" text-anchor="middle" fill="#000">2.0</text>
<clipPath id="cl6"><rect x="560.9" y="359.6" width="110" height="109.1"/></clipPath>
<g clip-path="url(#cl6)">
<path d="M589.1,356.95 L590.99,359.44 L592.88,361.93 L594.77,364.41 L596.66,366.89 L598.55,369.36 L600.44,371.82 L602.33,374.26 L604.22,376.7 L606.11,379.11 L608,381.5 L609.89,383.86 L611.78,386.18 L613.67,388.45 L615.56,390.66 L617.45,392.79 L619.34,394.84 L621.23,396.8 L623.12,398.67 L625.01,400.46 L626.9,402.19 L628.79,403.86 L630.68,405.5 L632.57,407.09 L634.46,408.67 L636.35,410.22 L638.24,411.76 L640.13,413.28 L642.02,414.79 L643.91,416.3 L645.8,417.8 L645.8,434 L643.91,431.52 L642.02,429.05 L640.13,426.58 L638.24,424.12 L636.35,421.68 L634.46,419.25 L632.57,416.85 L630.68,414.46 L628.79,412.12 L626.9,409.81 L625.01,407.56 L623.12,405.37 L621.23,403.26 L619.34,401.24 L617.45,399.31 L615.56,397.46 L613.67,395.69 L611.78,393.98 L609.89,392.32 L608,390.7 L606.11,389.11 L604.22,387.54 L602.33,386 L600.44,384.46 L598.55,382.94 L596.66,381.43 L594.77,379.93 L592.88,378.43 L590.99,376.94 L589.1,375.45 Z" fill="#f6d0f4" fill-opacity="1" stroke="none"/>
<path d="M589.1,356.95 L590.99,359.44 L592.88,361.93 L594.77,364.41 L596.66,366.89 L598.55,369.36 L600.44,371.82 L602.33,374.26 L604.22,376.7 L606.11,379.11 L608,381.5 L609.89,383.86 L611.78,386.18 L613.67,388.45 L615.56,390.66 L617.45,392.79 L619.34,394.84 L621.23,396.8 L623.12,398.67 L625.01,400.46 L626.9,402.19 L628.79,403.86 L630.68,405.5 L632.57,407.09 L634.46,408.67 L636.35,410.22 L638.24,411.76 L640.13,413.28 L642.02,414.79 L643.91,416.3 L645.8,417.8" fill="none" stroke="#f780ef" stroke-width="0.9"/>
<path d="M589.1,375.45 L590.99,376.94 L592.88,378.43 L594.77,379.93 L596.66,381.43 L598.55,382.94 L600.44,384.46 L602.33,386 L604.22,387.54 L606.11,389.11 L608,390.7 L609.89,392.32 L611.78,393.98 L613.67,395.69 L615.56,397.46 L617.45,399.31 L619.34,401.24 L621.23,403.26 L623.12,405.37 L625.01,407.56 L626.9,409.81 L628.79,412.12 L630.68,414.46 L632.57,416.85 L634.46,419.25 L636.35,421.68 L638.24,424.12 L640.13,426.58 L642.02,429.05 L643.91,431.52 L645.8,434" fill="none" stroke="#f780ef" stroke-width="0.9"/>
<path d="M589.1,366.2 L645.8,425.9" fill="none" stroke="#1e1e1e" stroke-width="1"/>
</g>
<circle cx="589.1" cy="361.6" r="2.35" fill="#fff" stroke="#f780ef" stroke-width="0.95"/>
<circle cx="604.5" cy="370.2" r="2.35" fill="#fff" stroke="#f780ef" stroke-width="0.95"/>
<circle cx="608.6" cy="397.3" r="2.35" fill="#fff" stroke="#f780ef" stroke-width="0.95"/>
<circle cx="612.1" cy="403.5" r="2.35" fill="#fff" stroke="#f780ef" stroke-width="0.95"/>
<circle cx="621.5" cy="410.8" r="2.35" fill="#fff" stroke="#f780ef" stroke-width="0.95"/>
<circle cx="624.2" cy="400.8" r="2.35" fill="#fff" stroke="#f780ef" stroke-width="0.95"/>
<circle cx="625.8" cy="400.8" r="2.35" fill="#fff" stroke="#f780ef" stroke-width="0.95"/>
<circle cx="631" cy="408.9" r="2.35" fill="#fff" stroke="#f780ef" stroke-width="0.95"/>
<circle cx="642.3" cy="418.9" r="2.35" fill="#fff" stroke="#f780ef" stroke-width="0.95"/>
<circle cx="645.8" cy="427.8" r="2.35" fill="#fff" stroke="#f780ef" stroke-width="0.95"/>
<text x="587.3" y="500.3" font-size="12" font-weight="bold" fill="#000" textLength="46.24" lengthAdjust="spacingAndGlyphs">Log10 (I</text>
<text x="633.54" y="503.9" font-size="9.2" font-weight="bold" fill="#000" textLength="5.14" lengthAdjust="spacingAndGlyphs">0</text>
<text x="638.68" y="500.3" font-size="12" font-weight="bold" fill="#000" textLength="4.02" lengthAdjust="spacingAndGlyphs">)</text>
<g transform="translate(531.5,412.5) rotate(-90)">
<text x="-50.5" y="0" font-size="11.6" font-weight="bold" fill="#000" textLength="44.78" lengthAdjust="spacingAndGlyphs">Log10 (I</text>
<text x="-5.72" y="4" font-size="9" font-weight="bold" fill="#000" textLength="40.8" lengthAdjust="spacingAndGlyphs">C22:5 n-6</text>
<text x="35.08" y="0" font-size="11.6" font-weight="bold" fill="#000" textLength="6.49" lengthAdjust="spacingAndGlyphs">/I</text>
<text x="41.57" y="4" font-size="9" font-weight="bold" fill="#000" textLength="5.04" lengthAdjust="spacingAndGlyphs">0</text>
<text x="46.61" y="0" font-size="11.6" font-weight="bold" fill="#000" textLength="3.89" lengthAdjust="spacingAndGlyphs">)</text>
</g>
<text x="571.6" y="453.8" font-size="9" font-weight="normal" fill="#222">R</text>
<text x="578.1" y="450.3" font-size="6.4" font-weight="normal" fill="#222">2</text>
<text x="583" y="453.8" font-size="9" font-weight="normal" fill="#222" textLength="23.5" lengthAdjust="spacingAndGlyphs">= 0.84</text>
<text x="571.6" y="463.2" font-size="9" font-weight="normal" fill="#222" textLength="62.2" lengthAdjust="spacingAndGlyphs">p-value = 0.0001</text>
<rect x="398.7" y="529.4" width="109.1" height="109.1" fill="#f1f5f9"/>
<line x1="397.8" y1="528.5" x2="397.8" y2="640.3" stroke="#000" stroke-width="1.8"/>
<line x1="396.9" y1="639.4" x2="508.7" y2="639.4" stroke="#000" stroke-width="1.8"/>
<line x1="392.3" y1="639.4" x2="397.8" y2="639.4" stroke="#000" stroke-width="1.8"/>
<text x="391.2" y="643.07" font-size="10.2" font-weight="bold" text-anchor="end" fill="#000">0.0</text>
<line x1="392.3" y1="611.9" x2="397.8" y2="611.9" stroke="#000" stroke-width="1.8"/>
<text x="391.2" y="615.57" font-size="10.2" font-weight="bold" text-anchor="end" fill="#000">0.5</text>
<line x1="392.3" y1="584.4" x2="397.8" y2="584.4" stroke="#000" stroke-width="1.8"/>
<text x="391.2" y="588.07" font-size="10.2" font-weight="bold" text-anchor="end" fill="#000">1.0</text>
<line x1="392.3" y1="556.9" x2="397.8" y2="556.9" stroke="#000" stroke-width="1.8"/>
<text x="391.2" y="560.57" font-size="10.2" font-weight="bold" text-anchor="end" fill="#000">1.5</text>
<line x1="392.3" y1="529.4" x2="397.8" y2="529.4" stroke="#000" stroke-width="1.8"/>
<text x="391.2" y="533.07" font-size="10.2" font-weight="bold" text-anchor="end" fill="#000">2.0</text>
<line x1="397.8" y1="639.4" x2="397.8" y2="644.9" stroke="#000" stroke-width="1.8"/>
<text x="397.8" y="654.8" font-size="10.2" font-weight="bold" text-anchor="middle" fill="#000">0.0</text>
<line x1="425.3" y1="639.4" x2="425.3" y2="644.9" stroke="#000" stroke-width="1.8"/>
<text x="425.3" y="654.8" font-size="10.2" font-weight="bold" text-anchor="middle" fill="#000">0.5</text>
<line x1="452.8" y1="639.4" x2="452.8" y2="644.9" stroke="#000" stroke-width="1.8"/>
<text x="452.8" y="654.8" font-size="10.2" font-weight="bold" text-anchor="middle" fill="#000">1.0</text>
<line x1="480.3" y1="639.4" x2="480.3" y2="644.9" stroke="#000" stroke-width="1.8"/>
<text x="480.3" y="654.8" font-size="10.2" font-weight="bold" text-anchor="middle" fill="#000">1.5</text>
<line x1="507.8" y1="639.4" x2="507.8" y2="644.9" stroke="#000" stroke-width="1.8"/>
<text x="507.8" y="654.8" font-size="10.2" font-weight="bold" text-anchor="middle" fill="#000">2.0</text>
<text x="425.1" y="670.1" font-size="12" font-weight="bold" fill="#000" textLength="46.24" lengthAdjust="spacingAndGlyphs">Log10 (I</text>
<text x="471.34" y="673.7" font-size="9.2" font-weight="bold" fill="#000" textLength="5.14" lengthAdjust="spacingAndGlyphs">0</text>
<text x="476.48" y="670.1" font-size="12" font-weight="bold" fill="#000" textLength="4.02" lengthAdjust="spacingAndGlyphs">)</text>
<g transform="translate(369.3,582.3) rotate(-90)">
<text x="-50.5" y="0" font-size="11.6" font-weight="bold" fill="#000" textLength="44.78" lengthAdjust="spacingAndGlyphs">Log10 (I</text>
<text x="-5.72" y="4" font-size="9" font-weight="bold" fill="#000" textLength="40.8" lengthAdjust="spacingAndGlyphs">C22:5 n-3</text>
<text x="35.08" y="0" font-size="11.6" font-weight="bold" fill="#000" textLength="6.49" lengthAdjust="spacingAndGlyphs">/I</text>
<text x="41.57" y="4" font-size="9" font-weight="bold" fill="#000" textLength="5.04" lengthAdjust="spacingAndGlyphs">0</text>
<text x="46.61" y="0" font-size="11.6" font-weight="bold" fill="#000" textLength="3.89" lengthAdjust="spacingAndGlyphs">)</text>
</g>
<circle cx="449.3" cy="550.2" r="2.2" fill="#fff" stroke="#928d08" stroke-width="1.45"/>
<circle cx="443" cy="562.8" r="2.2" fill="#fff" stroke="#928d08" stroke-width="1.45"/>
<circle cx="447.2" cy="574.6" r="2.2" fill="#fff" stroke="#928d08" stroke-width="1.45"/>
<circle cx="450.4" cy="579.4" r="2.2" fill="#fff" stroke="#928d08" stroke-width="1.45"/>
<circle cx="460.1" cy="578.3" r="2.2" fill="#fff" stroke="#928d08" stroke-width="1.45"/>
<circle cx="462.2" cy="587.2" r="2.2" fill="#fff" stroke="#928d08" stroke-width="1.45"/>
<circle cx="465.6" cy="587.8" r="2.2" fill="#fff" stroke="#928d08" stroke-width="1.45"/>
<circle cx="448.5" cy="590.9" r="2.2" fill="#fff" stroke="#928d08" stroke-width="1.45"/>
<circle cx="460.3" cy="592.2" r="2.2" fill="#fff" stroke="#928d08" stroke-width="1.45"/>
<circle cx="435.1" cy="593" r="2.2" fill="#fff" stroke="#928d08" stroke-width="1.45"/>
<circle cx="453.5" cy="596.4" r="2.2" fill="#fff" stroke="#928d08" stroke-width="1.45"/>
<circle cx="481.6" cy="590.4" r="2.2" fill="#fff" stroke="#928d08" stroke-width="1.45"/>
<text x="453" y="621.4" font-size="8.5" font-weight="bold" text-anchor="middle" fill="#111" textLength="103.9" lengthAdjust="spacingAndGlyphs">Spearman correlation test:</text>
<text x="453" y="631" font-size="9.6" font-weight="normal" text-anchor="middle" fill="#222" textLength="52.4" lengthAdjust="spacingAndGlyphs">p-value = 0.56</text>
<rect x="560.9" y="529.4" width="109.1" height="109.1" fill="#f1f5f9"/>
<line x1="560" y1="528.5" x2="560" y2="640.3" stroke="#000" stroke-width="1.8"/>
<line x1="559.1" y1="639.4" x2="670.9" y2="639.4" stroke="#000" stroke-width="1.8"/>
<line x1="554.5" y1="639.4" x2="560" y2="639.4" stroke="#000" stroke-width="1.8"/>
<text x="553.4" y="643.07" font-size="10.2" font-weight="bold" text-anchor="end" fill="#000">0.0</text>
<line x1="554.5" y1="611.9" x2="560" y2="611.9" stroke="#000" stroke-width="1.8"/>
<text x="553.4" y="615.57" font-size="10.2" font-weight="bold" text-anchor="end" fill="#000">0.5</text>
<line x1="554.5" y1="584.4" x2="560" y2="584.4" stroke="#000" stroke-width="1.8"/>
<text x="553.4" y="588.07" font-size="10.2" font-weight="bold" text-anchor="end" fill="#000">1.0</text>
<line x1="554.5" y1="556.9" x2="560" y2="556.9" stroke="#000" stroke-width="1.8"/>
<text x="553.4" y="560.57" font-size="10.2" font-weight="bold" text-anchor="end" fill="#000">1.5</text>
<line x1="554.5" y1="529.4" x2="560" y2="529.4" stroke="#000" stroke-width="1.8"/>
<text x="553.4" y="533.07" font-size="10.2" font-weight="bold" text-anchor="end" fill="#000">2.0</text>
<line x1="560" y1="639.4" x2="560" y2="644.9" stroke="#000" stroke-width="1.8"/>
<text x="560" y="654.8" font-size="10.2" font-weight="bold" text-anchor="middle" fill="#000">0.0</text>
<line x1="587.5" y1="639.4" x2="587.5" y2="644.9" stroke="#000" stroke-width="1.8"/>
<text x="587.5" y="654.8" font-size="10.2" font-weight="bold" text-anchor="middle" fill="#000">0.5</text>
<line x1="615" y1="639.4" x2="615" y2="644.9" stroke="#000" stroke-width="1.8"/>
<text x="615" y="654.8" font-size="10.2" font-weight="bold" text-anchor="middle" fill="#000">1.0</text>
<line x1="642.5" y1="639.4" x2="642.5" y2="644.9" stroke="#000" stroke-width="1.8"/>
<text x="642.5" y="654.8" font-size="10.2" font-weight="bold" text-anchor="middle" fill="#000">1.5</text>
<line x1="670" y1="639.4" x2="670" y2="644.9" stroke="#000" stroke-width="1.8"/>
<text x="670" y="654.8" font-size="10.2" font-weight="bold" text-anchor="middle" fill="#000">2.0</text>
<clipPath id="cl7"><rect x="560.9" y="529.4" width="110" height="109.1"/></clipPath>
<g clip-path="url(#cl7)">
<path d="M580.5,528.75 L583.46,531.5 L586.42,534.24 L589.38,536.97 L592.34,539.69 L595.3,542.39 L598.26,545.06 L601.22,547.7 L604.18,550.31 L607.14,552.86 L610.1,555.34 L613.06,557.74 L616.02,560.04 L618.98,562.23 L621.94,564.31 L624.9,566.28 L627.86,568.17 L630.82,569.99 L633.78,571.75 L636.74,573.48 L639.7,575.17 L642.66,576.83 L645.62,578.48 L648.58,580.11 L651.54,581.73 L654.5,583.34 L657.46,584.94 L660.42,586.54 L663.38,588.13 L666.34,589.72 L669.3,591.3 L669.3,614.3 L666.34,611.52 L663.38,608.75 L660.42,605.98 L657.46,603.22 L654.5,600.46 L651.54,597.71 L648.58,594.97 L645.62,592.24 L642.66,589.53 L639.7,586.83 L636.74,584.16 L633.78,581.53 L630.82,578.93 L627.86,576.39 L624.9,573.92 L621.94,571.53 L618.98,569.25 L616.02,567.08 L613.06,565.02 L610.1,563.06 L607.14,561.18 L604.18,559.37 L601.22,557.62 L598.26,555.9 L595.3,554.21 L592.34,552.55 L589.38,550.91 L586.42,549.28 L583.46,547.66 L580.5,546.05 Z" fill="#f9d3a4" fill-opacity="1" stroke="none"/>
<path d="M580.5,528.75 L583.46,531.5 L586.42,534.24 L589.38,536.97 L592.34,539.69 L595.3,542.39 L598.26,545.06 L601.22,547.7 L604.18,550.31 L607.14,552.86 L610.1,555.34 L613.06,557.74 L616.02,560.04 L618.98,562.23 L621.94,564.31 L624.9,566.28 L627.86,568.17 L630.82,569.99 L633.78,571.75 L636.74,573.48 L639.7,575.17 L642.66,576.83 L645.62,578.48 L648.58,580.11 L651.54,581.73 L654.5,583.34 L657.46,584.94 L660.42,586.54 L663.38,588.13 L666.34,589.72 L669.3,591.3" fill="none" stroke="#fb8c10" stroke-width="0.9"/>
<path d="M580.5,546.05 L583.46,547.66 L586.42,549.28 L589.38,550.91 L592.34,552.55 L595.3,554.21 L598.26,555.9 L601.22,557.62 L604.18,559.37 L607.14,561.18 L610.1,563.06 L613.06,565.02 L616.02,567.08 L618.98,569.25 L621.94,571.53 L624.9,573.92 L627.86,576.39 L630.82,578.93 L633.78,581.53 L636.74,584.16 L639.7,586.83 L642.66,589.53 L645.62,592.24 L648.58,594.97 L651.54,597.71 L654.5,600.46 L657.46,603.22 L660.42,605.98 L663.38,608.75 L666.34,611.52 L669.3,614.3" fill="none" stroke="#fb8c10" stroke-width="0.9"/>
<path d="M580.5,537.4 L669.3,602.8" fill="none" stroke="#1e1e1e" stroke-width="1"/>
</g>
<circle cx="580.2" cy="559.8" r="2.35" fill="#fff" stroke="#fb8c10" stroke-width="0.95"/>
<circle cx="584.3" cy="540.6" r="2.35" fill="#fff" stroke="#fb8c10" stroke-width="0.95"/>
<circle cx="601.3" cy="536.9" r="2.35" fill="#fff" stroke="#fb8c10" stroke-width="0.95"/>
<circle cx="607.5" cy="542.8" r="2.35" fill="#fff" stroke="#fb8c10" stroke-width="0.95"/>
<circle cx="601.3" cy="548.7" r="2.35" fill="#fff" stroke="#fb8c10" stroke-width="0.95"/>
<circle cx="596.7" cy="552.5" r="2.35" fill="#fff" stroke="#fb8c10" stroke-width="0.95"/>
<circle cx="599.9" cy="551.7" r="2.35" fill="#fff" stroke="#fb8c10" stroke-width="0.95"/>
<circle cx="610.7" cy="554.4" r="2.35" fill="#fff" stroke="#fb8c10" stroke-width="0.95"/>
<circle cx="612.9" cy="555.5" r="2.35" fill="#fff" stroke="#fb8c10" stroke-width="0.95"/>
<circle cx="621.5" cy="558.2" r="2.35" fill="#fff" stroke="#fb8c10" stroke-width="0.95"/>
<circle cx="631" cy="563.3" r="2.35" fill="#fff" stroke="#fb8c10" stroke-width="0.95"/>
<circle cx="626.9" cy="569.8" r="2.35" fill="#fff" stroke="#fb8c10" stroke-width="0.95"/>
<circle cx="629.1" cy="576.6" r="2.35" fill="#fff" stroke="#fb8c10" stroke-width="0.95"/>
<circle cx="623.4" cy="577.9" r="2.35" fill="#fff" stroke="#fb8c10" stroke-width="0.95"/>
<circle cx="619.4" cy="582.2" r="2.35" fill="#fff" stroke="#fb8c10" stroke-width="0.95"/>
<circle cx="635.6" cy="577.9" r="2.35" fill="#fff" stroke="#fb8c10" stroke-width="0.95"/>
<circle cx="646.4" cy="584.7" r="2.35" fill="#fff" stroke="#fb8c10" stroke-width="0.95"/>
<circle cx="627.5" cy="592.8" r="2.35" fill="#fff" stroke="#fb8c10" stroke-width="0.95"/>
<circle cx="668.8" cy="607.6" r="2.35" fill="#fff" stroke="#fb8c10" stroke-width="0.95"/>
<text x="587.3" y="670.1" font-size="12" font-weight="bold" fill="#000" textLength="46.24" lengthAdjust="spacingAndGlyphs">Log10 (I</text>
<text x="633.54" y="673.7" font-size="9.2" font-weight="bold" fill="#000" textLength="5.14" lengthAdjust="spacingAndGlyphs">0</text>
<text x="638.68" y="670.1" font-size="12" font-weight="bold" fill="#000" textLength="4.02" lengthAdjust="spacingAndGlyphs">)</text>
<g transform="translate(531.5,582.3) rotate(-90)">
<text x="-50.5" y="0" font-size="11.6" font-weight="bold" fill="#000" textLength="44.78" lengthAdjust="spacingAndGlyphs">Log10 (I</text>
<text x="-5.72" y="4" font-size="9" font-weight="bold" fill="#000" textLength="40.8" lengthAdjust="spacingAndGlyphs">C22:6 n-3</text>
<text x="35.08" y="0" font-size="11.6" font-weight="bold" fill="#000" textLength="6.49" lengthAdjust="spacingAndGlyphs">/I</text>
<text x="41.57" y="4" font-size="9" font-weight="bold" fill="#000" textLength="5.04" lengthAdjust="spacingAndGlyphs">0</text>
<text x="46.61" y="0" font-size="11.6" font-weight="bold" fill="#000" textLength="3.89" lengthAdjust="spacingAndGlyphs">)</text>
</g>
<text x="571.6" y="620.6" font-size="9" font-weight="normal" fill="#222">R</text>
<text x="578.1" y="617.1" font-size="6.4" font-weight="normal" fill="#222">2</text>
<text x="583" y="620.6" font-size="9" font-weight="normal" fill="#222" textLength="23.5" lengthAdjust="spacingAndGlyphs">= 0.68</text>
<text x="571.6" y="630" font-size="9" font-weight="normal" fill="#222" textLength="62.2" lengthAdjust="spacingAndGlyphs">p-value = 0.0001</text>
<rect x="42.4" y="706.7" width="118.6" height="118.6" fill="#f1f5f9"/>
<line x1="41.5" y1="705.8" x2="41.5" y2="827.1" stroke="#000" stroke-width="1.8"/>
<line x1="40.6" y1="826.2" x2="161.9" y2="826.2" stroke="#000" stroke-width="1.8"/>
<line x1="36" y1="826.2" x2="41.5" y2="826.2" stroke="#000" stroke-width="1.8"/>
<text x="34.3" y="830.23" font-size="11.2" font-weight="bold" text-anchor="end" fill="#000">0.0</text>
<line x1="36" y1="796.33" x2="41.5" y2="796.33" stroke="#000" stroke-width="1.8"/>
<text x="34.3" y="800.36" font-size="11.2" font-weight="bold" text-anchor="end" fill="#000">0.5</text>
<line x1="36" y1="766.45" x2="41.5" y2="766.45" stroke="#000" stroke-width="1.8"/>
<text x="34.3" y="770.48" font-size="11.2" font-weight="bold" text-anchor="end" fill="#000">1.0</text>
<line x1="36" y1="736.58" x2="41.5" y2="736.58" stroke="#000" stroke-width="1.8"/>
<text x="34.3" y="740.61" font-size="11.2" font-weight="bold" text-anchor="end" fill="#000">1.5</text>
<line x1="36" y1="706.7" x2="41.5" y2="706.7" stroke="#000" stroke-width="1.8"/>
<text x="34.3" y="710.73" font-size="11.2" font-weight="bold" text-anchor="end" fill="#000">2.0</text>
<line x1="41.5" y1="826.2" x2="41.5" y2="831.7" stroke="#000" stroke-width="1.8"/>
<text x="41.5" y="843.8" font-size="11.2" font-weight="bold" text-anchor="middle" fill="#000">0.0</text>
<line x1="71.38" y1="826.2" x2="71.38" y2="831.7" stroke="#000" stroke-width="1.8"/>
<text x="71.38" y="843.8" font-size="11.2" font-weight="bold" text-anchor="middle" fill="#000">0.5</text>
<line x1="101.25" y1="826.2" x2="101.25" y2="831.7" stroke="#000" stroke-width="1.8"/>
<text x="101.25" y="843.8" font-size="11.2" font-weight="bold" text-anchor="middle" fill="#000">1.0</text>
<line x1="131.12" y1="826.2" x2="131.12" y2="831.7" stroke="#000" stroke-width="1.8"/>
<text x="131.12" y="843.8" font-size="11.2" font-weight="bold" text-anchor="middle" fill="#000">1.5</text>
<line x1="161" y1="826.2" x2="161" y2="831.7" stroke="#000" stroke-width="1.8"/>
<text x="161" y="843.8" font-size="11.2" font-weight="bold" text-anchor="middle" fill="#000">2.0</text>
<clipPath id="cl8"><rect x="42.4" y="706.7" width="119.5" height="118.6"/></clipPath>
<g clip-path="url(#cl8)">
<path d="M64.2,706.2 L67.43,709.16 L70.66,712.1 L73.88,715.02 L77.11,717.92 L80.34,720.8 L83.56,723.65 L86.79,726.46 L90.02,729.22 L93.24,731.92 L96.47,734.55 L99.7,737.11 L102.92,739.57 L106.15,741.93 L109.38,744.2 L112.6,746.38 L115.83,748.48 L119.06,750.52 L122.28,752.5 L125.51,754.44 L128.74,756.34 L131.96,758.22 L135.19,760.07 L138.41,761.9 L141.64,763.72 L144.87,765.52 L148.09,767.32 L151.32,769.1 L154.55,770.88 L157.77,772.65 L161,774.42 L161,799.42 L157.77,796.43 L154.55,793.44 L151.32,790.46 L148.09,787.48 L144.87,784.51 L141.64,781.56 L138.41,778.61 L135.19,775.68 L131.96,772.78 L128.74,769.89 L125.51,767.03 L122.28,764.21 L119.06,761.43 L115.83,758.7 L112.6,756.05 L109.38,753.47 L106.15,750.97 L102.92,748.58 L99.7,746.28 L96.47,744.07 L93.24,741.94 L90.02,739.88 L86.79,737.88 L83.56,735.93 L80.34,734.02 L77.11,732.13 L73.88,730.27 L70.66,728.44 L67.43,726.61 L64.2,724.8 Z" fill="#f8cf98" fill-opacity="1" stroke="none"/>
</g>
<path d="M83.92,731.01 L85.12,732.25 L86.31,733.49 L87.51,734.71 L88.7,735.93 L89.9,737.15 L91.09,738.35 L92.29,739.54 L93.48,740.71 L94.68,741.88 L95.87,743.02 L97.07,744.14 L98.26,745.24 L99.46,746.32 L100.65,747.36 L101.85,748.37 L103.04,749.35 L104.24,750.29 L105.43,751.19 L106.63,752.06 L107.82,752.9 L109.02,753.7 L110.21,754.48 L111.41,755.24 L112.6,755.97 L113.8,756.69 L114.99,757.39 L116.19,758.07 L117.38,758.75 L118.58,759.41 L119.77,760.07 L119.77,771.87 L118.58,770.65 L117.38,769.44 L116.19,768.24 L114.99,767.05 L113.8,765.88 L112.6,764.72 L111.41,763.58 L110.21,762.46 L109.02,761.37 L107.82,760.3 L106.63,759.26 L105.43,758.26 L104.24,757.29 L103.04,756.36 L101.85,755.46 L100.65,754.6 L99.46,753.77 L98.26,752.97 L97.07,752.19 L95.87,751.44 L94.68,750.71 L93.48,750 L92.29,749.3 L91.09,748.62 L89.9,747.95 L88.7,747.29 L87.51,746.63 L86.31,745.99 L85.12,745.35 L83.92,744.71 Z" fill="#b48cd0" fill-opacity="0.55" stroke="none"/>
<path d="M100.65,728.09 L102.27,730.3 L103.88,732.5 L105.49,734.69 L107.11,736.87 L108.72,739.04 L110.33,741.19 L111.95,743.32 L113.56,745.42 L115.17,747.48 L116.79,749.49 L118.4,751.44 L120.01,753.32 L121.62,755.12 L123.24,756.84 L124.85,758.47 L126.46,760.03 L128.08,761.52 L129.69,762.97 L131.3,764.37 L132.92,765.75 L134.53,767.1 L136.14,768.43 L137.76,769.75 L139.37,771.06 L140.98,772.36 L142.6,773.65 L144.21,774.93 L145.82,776.21 L147.44,777.48 L149.05,778.75 L149.05,796.95 L147.44,794.73 L145.82,792.5 L144.21,790.28 L142.6,788.07 L140.98,785.86 L139.37,783.66 L137.76,781.47 L136.14,779.29 L134.53,777.13 L132.92,774.98 L131.3,772.86 L129.69,770.77 L128.08,768.72 L126.46,766.71 L124.85,764.77 L123.24,762.91 L121.62,761.12 L120.01,759.43 L118.4,757.81 L116.79,756.26 L115.17,754.78 L113.56,753.34 L111.95,751.94 L110.33,750.57 L108.72,749.23 L107.11,747.9 L105.49,746.58 L103.88,745.27 L102.27,743.98 L100.65,742.69 Z" fill="#a0a8f8" fill-opacity="0.55" stroke="none"/>
<clipPath id="cl9"><rect x="42.4" y="706.7" width="119.5" height="118.6"/></clipPath>
<g clip-path="url(#cl9)">
<path d="M64.2,706.2 L67.43,709.16 L70.66,712.1 L73.88,715.02 L77.11,717.92 L80.34,720.8 L83.56,723.65 L86.79,726.46 L90.02,729.22 L93.24,731.92 L96.47,734.55 L99.7,737.11 L102.92,739.57 L106.15,741.93 L109.38,744.2 L112.6,746.38 L115.83,748.48 L119.06,750.52 L122.28,752.5 L125.51,754.44 L128.74,756.34 L131.96,758.22 L135.19,760.07 L138.41,761.9 L141.64,763.72 L144.87,765.52 L148.09,767.32 L151.32,769.1 L154.55,770.88 L157.77,772.65 L161,774.42" fill="none" stroke="#f58a05" stroke-width="1.4"/>
<path d="M64.2,724.8 L67.43,726.61 L70.66,728.44 L73.88,730.27 L77.11,732.13 L80.34,734.02 L83.56,735.93 L86.79,737.88 L90.02,739.88 L93.24,741.94 L96.47,744.07 L99.7,746.28 L102.92,748.58 L106.15,750.97 L109.38,753.47 L112.6,756.05 L115.83,758.7 L119.06,761.43 L122.28,764.21 L125.51,767.03 L128.74,769.89 L131.96,772.78 L135.19,775.68 L138.41,778.61 L141.64,781.56 L144.87,784.51 L148.09,787.48 L151.32,790.46 L154.55,793.44 L157.77,796.43 L161,799.42" fill="none" stroke="#f58a05" stroke-width="1.4"/>
<path d="M64.2,715.5 L161,786.92" fill="none" stroke="#f7a040" stroke-width="0.8"/>
</g>
<path d="M83.92,731.01 L85.12,732.25 L86.31,733.49 L87.51,734.71 L88.7,735.93 L89.9,737.15 L91.09,738.35 L92.29,739.54 L93.48,740.71 L94.68,741.88 L95.87,743.02 L97.07,744.14 L98.26,745.24 L99.46,746.32 L100.65,747.36 L101.85,748.37 L103.04,749.35 L104.24,750.29 L105.43,751.19 L106.63,752.06 L107.82,752.9 L109.02,753.7 L110.21,754.48 L111.41,755.24 L112.6,755.97 L113.8,756.69 L114.99,757.39 L116.19,758.07 L117.38,758.75 L118.58,759.41 L119.77,760.07" fill="none" stroke="#9030a8" stroke-width="1.2"/>
<path d="M83.92,744.71 L85.12,745.35 L86.31,745.99 L87.51,746.63 L88.7,747.29 L89.9,747.95 L91.09,748.62 L92.29,749.3 L93.48,750 L94.68,750.71 L95.87,751.44 L97.07,752.19 L98.26,752.97 L99.46,753.77 L100.65,754.6 L101.85,755.46 L103.04,756.36 L104.24,757.29 L105.43,758.26 L106.63,759.26 L107.82,760.3 L109.02,761.37 L110.21,762.46 L111.41,763.58 L112.6,764.72 L113.8,765.88 L114.99,767.05 L116.19,768.24 L117.38,769.44 L118.58,770.65 L119.77,771.87" fill="none" stroke="#9030a8" stroke-width="1.2"/>
<path d="M83.92,737.86 L119.77,765.97" fill="none" stroke="#9a35b0" stroke-width="0.8"/>
<path d="M100.65,728.09 L102.27,730.3 L103.88,732.5 L105.49,734.69 L107.11,736.87 L108.72,739.04 L110.33,741.19 L111.95,743.32 L113.56,745.42 L115.17,747.48 L116.79,749.49 L118.4,751.44 L120.01,753.32 L121.62,755.12 L123.24,756.84 L124.85,758.47 L126.46,760.03 L128.08,761.52 L129.69,762.97 L131.3,764.37 L132.92,765.75 L134.53,767.1 L136.14,768.43 L137.76,769.75 L139.37,771.06 L140.98,772.36 L142.6,773.65 L144.21,774.93 L145.82,776.21 L147.44,777.48 L149.05,778.75" fill="none" stroke="#8088ff" stroke-width="1.2"/>
<path d="M100.65,742.69 L102.27,743.98 L103.88,745.27 L105.49,746.58 L107.11,747.9 L108.72,749.23 L110.33,750.57 L111.95,751.94 L113.56,753.34 L115.17,754.78 L116.79,756.26 L118.4,757.81 L120.01,759.43 L121.62,761.12 L123.24,762.91 L124.85,764.77 L126.46,766.71 L128.08,768.72 L129.69,770.77 L131.3,772.86 L132.92,774.98 L134.53,777.13 L136.14,779.29 L137.76,781.47 L139.37,783.66 L140.98,785.86 L142.6,788.07 L144.21,790.28 L145.82,792.5 L147.44,794.73 L149.05,796.95" fill="none" stroke="#8088ff" stroke-width="1.2"/>
<path d="M100.65,735.39 L149.05,787.85" fill="none" stroke="#7078f0" stroke-width="0.8"/>
<circle cx="102.4" cy="732.8" r="2.5" fill="#fff" stroke="#8c8cff" stroke-width="1.05"/>
<circle cx="112.6" cy="737.8" r="2.5" fill="#fff" stroke="#8c8cff" stroke-width="1.05"/>
<circle cx="100.2" cy="744.2" r="2.5" fill="#fff" stroke="#8c8cff" stroke-width="1.05"/>
<circle cx="128" cy="763" r="2.5" fill="#fff" stroke="#8c8cff" stroke-width="1.05"/>
<circle cx="127.6" cy="767.9" r="2.5" fill="#fff" stroke="#8c8cff" stroke-width="1.05"/>
<circle cx="130.7" cy="772.4" r="2.5" fill="#fff" stroke="#8c8cff" stroke-width="1.05"/>
<circle cx="131.2" cy="774.5" r="2.5" fill="#fff" stroke="#8c8cff" stroke-width="1.05"/>
<circle cx="149.1" cy="785.2" r="2.5" fill="#fff" stroke="#8c8cff" stroke-width="1.05"/>
<circle cx="88.4" cy="733.2" r="2.5" fill="#fff" stroke="#9440b0" stroke-width="1"/>
<circle cx="94.7" cy="737.4" r="2.5" fill="#fff" stroke="#9440b0" stroke-width="1"/>
<circle cx="84.7" cy="743.4" r="2.5" fill="#fff" stroke="#9440b0" stroke-width="1"/>
<circle cx="89.3" cy="747.1" r="2.5" fill="#fff" stroke="#9440b0" stroke-width="1"/>
<circle cx="94.2" cy="746.2" r="2.5" fill="#fff" stroke="#9440b0" stroke-width="1"/>
<circle cx="105.3" cy="759.7" r="2.5" fill="#fff" stroke="#9440b0" stroke-width="1"/>
<circle cx="114.5" cy="762.4" r="2.5" fill="#fff" stroke="#9440b0" stroke-width="1"/>
<circle cx="119.9" cy="763" r="2.5" fill="#fff" stroke="#9440b0" stroke-width="1"/>
<circle cx="107.9" cy="773" r="2.5" fill="#fff" stroke="#9440b0" stroke-width="1"/>
<circle cx="67.7" cy="718.8" r="2.5" fill="#fff" stroke="#f7a13a" stroke-width="1.1"/>
<circle cx="63.4" cy="739.8" r="2.5" fill="#fff" stroke="#f7a13a" stroke-width="1.1"/>
<circle cx="86.9" cy="714.6" r="2.5" fill="#fff" stroke="#f7a13a" stroke-width="1.1"/>
<circle cx="92.9" cy="721" r="2.5" fill="#fff" stroke="#f7a13a" stroke-width="1.1"/>
<circle cx="86.2" cy="727.7" r="2.5" fill="#fff" stroke="#f7a13a" stroke-width="1.1"/>
<circle cx="81.6" cy="731.4" r="2.5" fill="#fff" stroke="#f7a13a" stroke-width="1.1"/>
<circle cx="84.7" cy="731" r="2.5" fill="#fff" stroke="#f7a13a" stroke-width="1.1"/>
<circle cx="96.2" cy="733.4" r="2.5" fill="#fff" stroke="#f7a13a" stroke-width="1.1"/>
<circle cx="98.4" cy="734.7" r="2.5" fill="#fff" stroke="#f7a13a" stroke-width="1.1"/>
<circle cx="108.4" cy="737.8" r="2.5" fill="#fff" stroke="#f7a13a" stroke-width="1.1"/>
<circle cx="118.5" cy="743.8" r="2.5" fill="#fff" stroke="#f7a13a" stroke-width="1.1"/>
<circle cx="114.5" cy="750.2" r="2.5" fill="#fff" stroke="#f7a13a" stroke-width="1.1"/>
<circle cx="117" cy="758" r="2.5" fill="#fff" stroke="#f7a13a" stroke-width="1.1"/>
<circle cx="110.3" cy="759.9" r="2.5" fill="#fff" stroke="#f7a13a" stroke-width="1.1"/>
<circle cx="123.6" cy="759.7" r="2.5" fill="#fff" stroke="#f7a13a" stroke-width="1.1"/>
<circle cx="106.1" cy="763.9" r="2.5" fill="#fff" stroke="#f7a13a" stroke-width="1.1"/>
<circle cx="134.9" cy="767" r="2.5" fill="#fff" stroke="#f7a13a" stroke-width="1.1"/>
<circle cx="114.8" cy="775.4" r="2.5" fill="#fff" stroke="#f7a13a" stroke-width="1.1"/>
<circle cx="159.9" cy="792.2" r="2.5" fill="#fff" stroke="#f7a13a" stroke-width="1.1"/>
<text x="71.25" y="861.3" font-size="14" font-weight="bold" fill="#000" textLength="49.55" lengthAdjust="spacingAndGlyphs">Log10(I</text>
<text x="120.8" y="865.6" font-size="10.5" font-weight="bold" fill="#000" textLength="5.81" lengthAdjust="spacingAndGlyphs">0</text>
<text x="126.61" y="861.3" font-size="14" font-weight="bold" fill="#000" textLength="4.64" lengthAdjust="spacingAndGlyphs">)</text>
<g transform="translate(11.2,762.5) rotate(-90)">
<text x="-55.85" y="0" font-size="13" font-weight="bold" fill="#000" textLength="49.72" lengthAdjust="spacingAndGlyphs">Log10 (I</text>
<text x="-6.13" y="4" font-size="10" font-weight="bold" fill="#000" textLength="44.91" lengthAdjust="spacingAndGlyphs">C22:6 n-3</text>
<text x="38.78" y="0" font-size="13" font-weight="bold" fill="#000" textLength="7.21" lengthAdjust="spacingAndGlyphs">/I</text>
<text x="45.98" y="4" font-size="10" font-weight="bold" fill="#000" textLength="5.55" lengthAdjust="spacingAndGlyphs">0</text>
<text x="51.53" y="0" font-size="13" font-weight="bold" fill="#000" textLength="4.32" lengthAdjust="spacingAndGlyphs">)</text>
</g>
<line x1="174.2" y1="716.6" x2="188.1" y2="716.6" stroke="#f7a13a" stroke-width="0.9"/>
<circle cx="181.2" cy="716.6" r="2.5" fill="#fff" stroke="#f7a13a" stroke-width="1"/>
<text x="194.4" y="719.8" font-size="9" font-weight="normal" fill="#000" textLength="130.08" lengthAdjust="spacingAndGlyphs">HEK hTREK-1, stable cell line #1</text>
<text x="194.4" y="730.5" font-size="9" font-weight="normal" fill="#000" textLength="101.36" lengthAdjust="spacingAndGlyphs">Y = -0.7378*X + 2.133 ; R</text>
<text x="295.96" y="726.9" font-size="6.2" font-weight="normal" fill="#000" textLength="3.4" lengthAdjust="spacingAndGlyphs">2</text>
<text x="299.46" y="730.5" font-size="9" font-weight="normal" fill="#000" textLength="27.36" lengthAdjust="spacingAndGlyphs"> = 0.68</text>
<line x1="174.2" y1="755.2" x2="188.1" y2="755.2" stroke="#9440b0" stroke-width="0.9"/>
<circle cx="181.2" cy="755.2" r="2.5" fill="#fff" stroke="#9440b0" stroke-width="1"/>
<text x="194.4" y="758.4" font-size="9" font-weight="normal" fill="#000" textLength="130.08" lengthAdjust="spacingAndGlyphs">HEK hTREK-1, stable cell line #2</text>
<text x="194.4" y="769.1" font-size="9" font-weight="normal" fill="#000" textLength="101.36" lengthAdjust="spacingAndGlyphs">Y = -0.7839*X + 2.035 ; R</text>
<text x="295.96" y="765.5" font-size="6.2" font-weight="normal" fill="#000" textLength="3.4" lengthAdjust="spacingAndGlyphs">2</text>
<text x="299.46" y="769.1" font-size="9" font-weight="normal" fill="#000" textLength="27.36" lengthAdjust="spacingAndGlyphs"> = 0.64</text>
<line x1="174.2" y1="794.3" x2="188.1" y2="794.3" stroke="#8c8cff" stroke-width="0.9"/>
<circle cx="181.2" cy="794.3" r="2.5" fill="#fff" stroke="#8c8cff" stroke-width="1"/>
<text x="194.4" y="797.5" font-size="9" font-weight="normal" fill="#000" textLength="129.92" lengthAdjust="spacingAndGlyphs">HEK 293T transiently transfected</text>
<text x="194.4" y="808.2" font-size="9" font-weight="normal" fill="#000" textLength="67.86" lengthAdjust="spacingAndGlyphs">(6 ng/µL pIRES2 </text>
<text x="262.26" y="808.2" font-size="9" font-weight="normal" font-style="italic" fill="#000" textLength="29.56" lengthAdjust="spacingAndGlyphs">KCNK2</text>
<text x="291.82" y="808.2" font-size="9" font-weight="normal" fill="#000" textLength="21.5" lengthAdjust="spacingAndGlyphs"> WT )</text>
<text x="194.4" y="818.9" font-size="9" font-weight="normal" fill="#000" textLength="96.43" lengthAdjust="spacingAndGlyphs">Y = -1.084*X + 2.593 ; R</text>
<text x="291.03" y="815.3" font-size="6.2" font-weight="normal" fill="#000" textLength="3.4" lengthAdjust="spacingAndGlyphs">2</text>
<text x="294.53" y="818.9" font-size="9" font-weight="normal" fill="#000" textLength="27.36" lengthAdjust="spacingAndGlyphs"> = 0.89</text>
<rect x="398.1" y="712.3" width="113.7" height="113.2" fill="#f9f0f3"/>
<line x1="397.2" y1="711.4" x2="397.2" y2="827.3" stroke="#000" stroke-width="1.8"/>
<line x1="396.3" y1="826.4" x2="512.7" y2="826.4" stroke="#000" stroke-width="1.8"/>
<line x1="391.7" y1="826.4" x2="397.2" y2="826.4" stroke="#000" stroke-width="1.8"/>
<text x="391" y="830.36" font-size="11" font-weight="bold" text-anchor="end" fill="#000">0</text>
<line x1="391.7" y1="788.37" x2="397.2" y2="788.37" stroke="#000" stroke-width="1.8"/>
<text x="391" y="792.33" font-size="11" font-weight="bold" text-anchor="end" fill="#000">1</text>
<line x1="391.7" y1="750.33" x2="397.2" y2="750.33" stroke="#000" stroke-width="1.8"/>
<text x="391" y="754.29" font-size="11" font-weight="bold" text-anchor="end" fill="#000">2</text>
<line x1="391.7" y1="712.3" x2="397.2" y2="712.3" stroke="#000" stroke-width="1.8"/>
<text x="391" y="716.26" font-size="11" font-weight="bold" text-anchor="end" fill="#000">3</text>
<line x1="416.3" y1="826.4" x2="416.3" y2="831.9" stroke="#000" stroke-width="1.8"/>
<text x="416.3" y="842.8" font-size="11" font-weight="bold" text-anchor="middle" fill="#000">18</text>
<line x1="454.5" y1="826.4" x2="454.5" y2="831.9" stroke="#000" stroke-width="1.8"/>
<text x="454.5" y="842.8" font-size="11" font-weight="bold" text-anchor="middle" fill="#000">20</text>
<line x1="492.7" y1="826.4" x2="492.7" y2="831.9" stroke="#000" stroke-width="1.8"/>
<text x="492.7" y="842.8" font-size="11" font-weight="bold" text-anchor="middle" fill="#000">22</text>
<g stroke="#9b30ff" stroke-width="1.5" stroke-opacity="0.55">
<line x1="416.3" y1="732.84" x2="416.3" y2="734.1" stroke="#9b30ff" stroke-width="1.5"/>
<line x1="416.3" y1="740.7" x2="416.3" y2="741.97" stroke="#9b30ff" stroke-width="1.5"/>
<line x1="413" y1="732.84" x2="419.6" y2="732.84" stroke="#9b30ff" stroke-width="1.5"/>
<line x1="413" y1="741.97" x2="419.6" y2="741.97" stroke="#9b30ff" stroke-width="1.5"/>
</g>
<g stroke="#7fe8cc" stroke-width="1.5" stroke-opacity="0.55">
<line x1="454.5" y1="757.18" x2="454.5" y2="761.49" stroke="#7fe8cc" stroke-width="1.5"/>
<line x1="454.5" y1="768.09" x2="454.5" y2="772.39" stroke="#7fe8cc" stroke-width="1.5"/>
<line x1="451.2" y1="757.18" x2="457.8" y2="757.18" stroke="#7fe8cc" stroke-width="1.5"/>
<line x1="451.2" y1="772.39" x2="457.8" y2="772.39" stroke="#7fe8cc" stroke-width="1.5"/>
</g>
<g stroke="#a65c0c" stroke-width="1.5" stroke-opacity="0.55">
<line x1="454.5" y1="758.32" x2="454.5" y2="759.58" stroke="#a65c0c" stroke-width="1.5"/>
<line x1="454.5" y1="766.18" x2="454.5" y2="767.45" stroke="#a65c0c" stroke-width="1.5"/>
<line x1="451.2" y1="758.32" x2="457.8" y2="758.32" stroke="#a65c0c" stroke-width="1.5"/>
<line x1="451.2" y1="767.45" x2="457.8" y2="767.45" stroke="#a65c0c" stroke-width="1.5"/>
</g>
<g stroke="#ef3190" stroke-width="1.5" stroke-opacity="0.55">
<line x1="454.5" y1="737.78" x2="454.5" y2="743.99" stroke="#ef3190" stroke-width="1.5"/>
<line x1="454.5" y1="750.59" x2="454.5" y2="756.8" stroke="#ef3190" stroke-width="1.5"/>
<line x1="451.2" y1="737.78" x2="457.8" y2="737.78" stroke="#ef3190" stroke-width="1.5"/>
<line x1="451.2" y1="756.8" x2="457.8" y2="756.8" stroke="#ef3190" stroke-width="1.5"/>
</g>
<g stroke="#3a9a10" stroke-width="1.5" stroke-opacity="0.55">
<line x1="454.5" y1="744.63" x2="454.5" y2="748.94" stroke="#3a9a10" stroke-width="1.5"/>
<line x1="454.5" y1="755.53" x2="454.5" y2="759.84" stroke="#3a9a10" stroke-width="1.5"/>
<line x1="451.2" y1="744.63" x2="457.8" y2="744.63" stroke="#3a9a10" stroke-width="1.5"/>
<line x1="451.2" y1="759.84" x2="457.8" y2="759.84" stroke="#3a9a10" stroke-width="1.5"/>
</g>
<g stroke="#f780ef" stroke-width="1.5" stroke-opacity="0.55">
<line x1="492.7" y1="725.99" x2="492.7" y2="729.54" stroke="#f780ef" stroke-width="1.5"/>
<line x1="492.7" y1="736.14" x2="492.7" y2="739.68" stroke="#f780ef" stroke-width="1.5"/>
<line x1="489.4" y1="725.99" x2="496" y2="725.99" stroke="#f780ef" stroke-width="1.5"/>
<line x1="489.4" y1="739.68" x2="496" y2="739.68" stroke="#f780ef" stroke-width="1.5"/>
</g>
<g stroke="#fb8c10" stroke-width="1.5" stroke-opacity="0.55">
<line x1="492.7" y1="740.44" x2="492.7" y2="742.47" stroke="#fb8c10" stroke-width="1.5"/>
<line x1="492.7" y1="749.07" x2="492.7" y2="751.09" stroke="#fb8c10" stroke-width="1.5"/>
<line x1="489.4" y1="740.44" x2="496" y2="740.44" stroke="#fb8c10" stroke-width="1.5"/>
<line x1="489.4" y1="751.09" x2="496" y2="751.09" stroke="#fb8c10" stroke-width="1.5"/>
</g>
<circle cx="416.3" cy="737.4" r="2.7" fill="#fff" stroke="#9b30ff" stroke-width="1.5"/>
<circle cx="454.5" cy="764.79" r="2.7" fill="#fff" stroke="#7fe8cc" stroke-width="1.5"/>
<circle cx="454.5" cy="762.88" r="2.7" fill="#fff" stroke="#a65c0c" stroke-width="1.5"/>
<circle cx="454.5" cy="747.29" r="2.7" fill="#fff" stroke="#ef3190" stroke-width="1.5"/>
<circle cx="454.5" cy="752.24" r="2.7" fill="#fff" stroke="#3a9a10" stroke-width="1.5"/>
<circle cx="492.7" cy="732.84" r="2.7" fill="#fff" stroke="#f780ef" stroke-width="1.5"/>
<circle cx="492.7" cy="745.77" r="2.7" fill="#fff" stroke="#fb8c10" stroke-width="1.5"/>
<text x="454.4" y="807.8" font-size="8.6" font-weight="bold" text-anchor="middle" fill="#111" textLength="107.4" lengthAdjust="spacingAndGlyphs">Spearman correlation test:</text>
<text x="454.4" y="818" font-size="9.4" font-weight="normal" text-anchor="middle" fill="#222" textLength="52.4" lengthAdjust="spacingAndGlyphs">p-value = 0.55</text>
<text x="454.5" y="856.5" font-size="11" font-weight="bold" text-anchor="middle" fill="#000" textLength="89.8" lengthAdjust="spacingAndGlyphs">Acyl chain length</text>
<g transform="translate(378.6,767.95) rotate(-90)">
<text x="-32.6" y="0" font-size="12.8" font-weight="bold" fill="#000" textLength="65.2" lengthAdjust="spacingAndGlyphs">Y-intercept</text>
</g>
<rect x="561.3" y="712.3" width="112.1" height="113.2" fill="#f9f0f3"/>
<line x1="560.4" y1="711.4" x2="560.4" y2="827.3" stroke="#000" stroke-width="1.8"/>
<line x1="559.5" y1="826.4" x2="674.3" y2="826.4" stroke="#000" stroke-width="1.8"/>
<line x1="554.9" y1="826.4" x2="560.4" y2="826.4" stroke="#000" stroke-width="1.8"/>
<text x="554.2" y="830.36" font-size="11" font-weight="bold" text-anchor="end" fill="#000">0</text>
<line x1="554.9" y1="788.37" x2="560.4" y2="788.37" stroke="#000" stroke-width="1.8"/>
<text x="554.2" y="792.33" font-size="11" font-weight="bold" text-anchor="end" fill="#000">1</text>
<line x1="554.9" y1="750.33" x2="560.4" y2="750.33" stroke="#000" stroke-width="1.8"/>
<text x="554.2" y="754.29" font-size="11" font-weight="bold" text-anchor="end" fill="#000">2</text>
<line x1="554.9" y1="712.3" x2="560.4" y2="712.3" stroke="#000" stroke-width="1.8"/>
<text x="554.2" y="716.26" font-size="11" font-weight="bold" text-anchor="end" fill="#000">3</text>
<line x1="579.23" y1="826.4" x2="579.23" y2="831.9" stroke="#000" stroke-width="1.8"/>
<text x="579.23" y="842.8" font-size="11" font-weight="bold" text-anchor="middle" fill="#000">2</text>
<line x1="598.07" y1="826.4" x2="598.07" y2="831.9" stroke="#000" stroke-width="1.8"/>
<text x="598.07" y="842.8" font-size="11" font-weight="bold" text-anchor="middle" fill="#000">3</text>
<line x1="616.9" y1="826.4" x2="616.9" y2="831.9" stroke="#000" stroke-width="1.8"/>
<text x="616.9" y="842.8" font-size="11" font-weight="bold" text-anchor="middle" fill="#000">4</text>
<line x1="635.73" y1="826.4" x2="635.73" y2="831.9" stroke="#000" stroke-width="1.8"/>
<text x="635.73" y="842.8" font-size="11" font-weight="bold" text-anchor="middle" fill="#000">5</text>
<line x1="654.57" y1="826.4" x2="654.57" y2="831.9" stroke="#000" stroke-width="1.8"/>
<text x="654.57" y="842.8" font-size="11" font-weight="bold" text-anchor="middle" fill="#000">6</text>
<g stroke="#9b30ff" stroke-width="1.5" stroke-opacity="0.55">
<line x1="579.23" y1="732.84" x2="579.23" y2="734.1" stroke="#9b30ff" stroke-width="1.5"/>
<line x1="579.23" y1="740.7" x2="579.23" y2="741.97" stroke="#9b30ff" stroke-width="1.5"/>
<line x1="575.93" y1="732.84" x2="582.53" y2="732.84" stroke="#9b30ff" stroke-width="1.5"/>
<line x1="575.93" y1="741.97" x2="582.53" y2="741.97" stroke="#9b30ff" stroke-width="1.5"/>
</g>
<g stroke="#7fe8cc" stroke-width="1.5" stroke-opacity="0.55">
<line x1="579.23" y1="757.18" x2="579.23" y2="761.49" stroke="#7fe8cc" stroke-width="1.5"/>
<line x1="579.23" y1="768.09" x2="579.23" y2="772.39" stroke="#7fe8cc" stroke-width="1.5"/>
<line x1="575.93" y1="757.18" x2="582.53" y2="757.18" stroke="#7fe8cc" stroke-width="1.5"/>
<line x1="575.93" y1="772.39" x2="582.53" y2="772.39" stroke="#7fe8cc" stroke-width="1.5"/>
</g>
<g stroke="#ef3190" stroke-width="1.5" stroke-opacity="0.55">
<line x1="616.9" y1="737.78" x2="616.9" y2="743.99" stroke="#ef3190" stroke-width="1.5"/>
<line x1="616.9" y1="750.59" x2="616.9" y2="756.8" stroke="#ef3190" stroke-width="1.5"/>
<line x1="613.6" y1="737.78" x2="620.2" y2="737.78" stroke="#ef3190" stroke-width="1.5"/>
<line x1="613.6" y1="756.8" x2="620.2" y2="756.8" stroke="#ef3190" stroke-width="1.5"/>
</g>
<g stroke="#a65c0c" stroke-width="1.5" stroke-opacity="0.55">
<line x1="616.9" y1="758.32" x2="616.9" y2="759.58" stroke="#a65c0c" stroke-width="1.5"/>
<line x1="616.9" y1="766.18" x2="616.9" y2="767.45" stroke="#a65c0c" stroke-width="1.5"/>
<line x1="613.6" y1="758.32" x2="620.2" y2="758.32" stroke="#a65c0c" stroke-width="1.5"/>
<line x1="613.6" y1="767.45" x2="620.2" y2="767.45" stroke="#a65c0c" stroke-width="1.5"/>
</g>
<g stroke="#f780ef" stroke-width="1.5" stroke-opacity="0.55">
<line x1="635.73" y1="725.99" x2="635.73" y2="729.54" stroke="#f780ef" stroke-width="1.5"/>
<line x1="635.73" y1="736.14" x2="635.73" y2="739.68" stroke="#f780ef" stroke-width="1.5"/>
<line x1="632.43" y1="725.99" x2="639.03" y2="725.99" stroke="#f780ef" stroke-width="1.5"/>
<line x1="632.43" y1="739.68" x2="639.03" y2="739.68" stroke="#f780ef" stroke-width="1.5"/>
</g>
<g stroke="#3a9a10" stroke-width="1.5" stroke-opacity="0.55">
<line x1="635.73" y1="744.63" x2="635.73" y2="748.94" stroke="#3a9a10" stroke-width="1.5"/>
<line x1="635.73" y1="755.53" x2="635.73" y2="759.84" stroke="#3a9a10" stroke-width="1.5"/>
<line x1="632.43" y1="744.63" x2="639.03" y2="744.63" stroke="#3a9a10" stroke-width="1.5"/>
<line x1="632.43" y1="759.84" x2="639.03" y2="759.84" stroke="#3a9a10" stroke-width="1.5"/>
</g>
<g stroke="#fb8c10" stroke-width="1.5" stroke-opacity="0.55">
<line x1="654.57" y1="740.44" x2="654.57" y2="742.47" stroke="#fb8c10" stroke-width="1.5"/>
<line x1="654.57" y1="749.07" x2="654.57" y2="751.09" stroke="#fb8c10" stroke-width="1.5"/>
<line x1="651.27" y1="740.44" x2="657.87" y2="740.44" stroke="#fb8c10" stroke-width="1.5"/>
<line x1="651.27" y1="751.09" x2="657.87" y2="751.09" stroke="#fb8c10" stroke-width="1.5"/>
</g>
<circle cx="579.23" cy="737.4" r="2.7" fill="#fff" stroke="#9b30ff" stroke-width="1.5"/>
<circle cx="579.23" cy="764.79" r="2.7" fill="#fff" stroke="#7fe8cc" stroke-width="1.5"/>
<circle cx="616.9" cy="747.29" r="2.7" fill="#fff" stroke="#ef3190" stroke-width="1.5"/>
<circle cx="616.9" cy="762.88" r="2.7" fill="#fff" stroke="#a65c0c" stroke-width="1.5"/>
<circle cx="635.73" cy="732.84" r="2.7" fill="#fff" stroke="#f780ef" stroke-width="1.5"/>
<circle cx="635.73" cy="752.24" r="2.7" fill="#fff" stroke="#3a9a10" stroke-width="1.5"/>
<circle cx="654.57" cy="745.77" r="2.7" fill="#fff" stroke="#fb8c10" stroke-width="1.5"/>
<text x="616.8" y="807.8" font-size="8.6" font-weight="bold" text-anchor="middle" fill="#111" textLength="107.4" lengthAdjust="spacingAndGlyphs">Spearman correlation test:</text>
<text x="616.8" y="818" font-size="9.4" font-weight="normal" text-anchor="middle" fill="#222" textLength="52.4" lengthAdjust="spacingAndGlyphs">p-value = 0.44</text>
<text x="616.9" y="856.5" font-size="11" font-weight="bold" text-anchor="middle" fill="#000" textLength="134.8" lengthAdjust="spacingAndGlyphs">Number of double bounds</text>
<g transform="translate(541.8,767.95) rotate(-90)">
<text x="-32.6" y="0" font-size="12.8" font-weight="bold" fill="#000" textLength="65.2" lengthAdjust="spacingAndGlyphs">Y-intercept</text>
</g>
</svg>
</body></html>
